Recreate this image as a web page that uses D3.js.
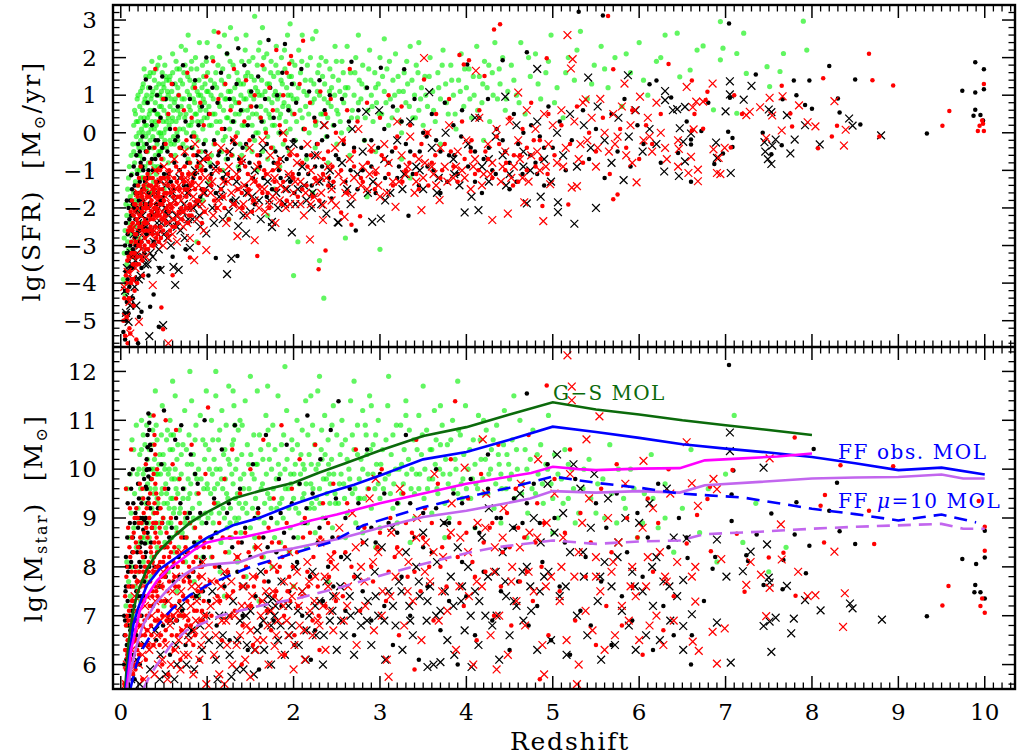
<!DOCTYPE html>
<html>
<head>
<meta charset="utf-8">
<script src="https://cdn.jsdelivr.net/npm/d3@7"></script>
<style>
  body { margin: 0; background: #fff; }
  svg { display: block; }
  text { font-family: "DejaVu Serif", serif; fill: #000; }
</style>
</head>
<body>
<svg id="chart"></svg>
<script>
const width = 1018;
const height = 755;

// tick labels
const zTicks = [0, 1, 2, 3, 4, 5, 6, 7, 8, 9, 10];
const sfrTicks = [-5, -4, -3, -2, -1, 0, 1, 2, 3];
const msTicks = [6, 7, 8, 9, 10, 11, 12];

// ---- upper panel: lg(SFR) vs redshift, [z, lgSFR] ----
const sfrGreen = [
  [0.03,-3.9],[0.04,-3.2],[0.05,-2.6],[0.05,-4.3],[0.06,-1.9],[0.07,-3.5],[0.07,-2.2],[0.08,-2.9],[0.08,-1.5],[0.09,-3.1],[0.09,-1.2],[0.10,-2.4],[0.10,-0.9],[0.11,-2.7],[0.11,-1.7],[0.12,-3.6],[0.12,-0.6],[0.06,-4.0],[0.04,-2.8],[0.10,-1.95],
  [0.13,-2.2],[0.13,-1.1],[0.14,-0.3],[0.14,-2.9],[0.15,-1.6],[0.15,0.2],[0.16,-0.8],[0.16,-2.5],[0.17,-1.3],[0.17,0.5],[0.18,-0.1],[0.18,-1.9],[0.19,-0.6],[0.19,0.9],[0.20,-1.4],[0.20,0.3],[0.21,-2.1],[0.21,-0.4],[0.22,0.7],[0.22,-1.0],[0.23,-0.2],[0.23,1.1],[0.24,-1.7],[0.24,0.1],[0.25,-0.7],[0.25,0.6],[0.26,-1.2],[0.26,1.3],[0.27,-0.3],[0.27,0.4],[0.28,-0.9],[0.28,0.9],[0.29,-0.1],[0.29,1.5],[0.30,-1.5],[0.30,0.2],[0.14,-3.3],[0.17,-2.7],[0.21,-2.8],[0.24,-2.4],[0.27,1.7],[0.19,-1.0],[0.23,-0.9],[0.26,0.0],[0.28,-1.9],
  [0.31,0.8],[0.31,-0.5],[0.32,1.2],[0.32,0.0],[0.33,-1.1],[0.33,0.5],[0.34,1.6],[0.34,-0.2],[0.35,0.9],[0.35,-0.8],[0.36,0.3],[0.36,1.9],[0.37,-0.4],[0.37,1.1],[0.38,0.6],[0.38,-1.3],[0.39,0.1],[0.39,1.4],[0.40,-0.6],[0.40,0.8],[0.41,1.7],[0.41,0.2],[0.42,-0.3],[0.42,1.0],[0.43,0.5],[0.43,-0.9],[0.44,1.3],[0.44,0.0],[0.45,2.0],[0.45,0.7],[0.46,-0.5],[0.46,0.4],[0.47,1.1],[0.47,-0.1],[0.48,0.9],[0.48,1.6],[0.49,-0.7],[0.49,0.3],[0.50,1.2],[0.50,0.6],[0.51,-0.2],[0.51,1.8],[0.52,0.1],[0.52,0.9],[0.53,1.4],[0.53,-0.4],[0.54,0.5],[0.55,1.0],[0.55,-0.8],[0.56,0.2],[0.57,1.5],[0.57,0.7],[0.58,-0.3],[0.59,1.1],[0.60,0.4],[0.60,2.1],[0.61,-0.1],[0.62,0.8],[0.63,1.3],[0.63,-0.6],[0.64,0.3],[0.65,1.7],[0.66,0.6],[0.66,-0.2],[0.67,1.0],[0.68,0.1],[0.69,1.4],[0.69,0.5],[0.36,-1.6],[0.52,-1.2],
  [0.71,0.9],[0.72,-0.3],[0.73,1.6],[0.74,0.4],[0.75,2.2],[0.76,0.0],[0.77,1.1],[0.78,-0.7],[0.79,0.7],[0.80,1.4],[0.81,0.2],[0.82,1.9],[0.83,-0.4],[0.84,0.9],[0.85,1.3],[0.86,0.5],[0.87,-0.1],[0.88,1.7],[0.89,0.3],[0.90,1.0],[0.91,2.4],[0.92,0.6],[0.93,-0.5],[0.94,1.2],[0.95,0.1],[0.96,1.5],[0.97,0.8],[0.98,-0.2],[0.99,1.9],[1.00,0.4],[1.01,1.1],[1.02,0.7],[1.03,-0.8],[1.04,1.4],[1.05,0.2],[1.06,2.0],[1.07,0.9],[1.08,-0.3],[1.09,0.5],[1.10,1.6],[1.11,1.2],[1.12,0.0],[1.13,0.8],[1.14,2.3],[1.15,0.3],[1.16,1.0],[1.17,-0.5],[1.18,1.7],[1.19,0.6],[1.20,1.3],[1.21,-0.1],[1.22,0.9],[1.23,2.1],[1.24,0.4],[1.25,1.5],[1.26,0.1],[1.27,1.1],[1.28,0.7],[1.29,-0.6],[1.30,1.8],[1.31,0.3],[1.32,1.2],[1.33,0.8],[1.34,2.5],[1.35,0.0],[1.36,1.4],[1.37,0.5],[1.38,-0.3],[1.39,1.0],[1.40,1.9],[1.41,0.6],[1.42,1.3],[1.43,0.2],[1.44,2.2],[1.45,0.9],[1.46,-0.4],[1.47,1.6],[1.48,0.4],[1.49,1.1],[1.50,0.7],[0.84,-1.1],[1.02,-1.3],[1.18,-1.0],[1.36,-0.9],[0.95,-1.8],[1.25,-2.3],[0.78,2.6],[1.08,2.7],[1.27,2.8],[0.88,-2.9],
  [1.51,1.5],[1.52,0.2],[1.53,2.0],[1.54,0.9],[1.55,-0.2],[1.56,1.2],[1.57,0.5],[1.58,1.8],[1.59,0.0],[1.60,1.0],[1.61,2.4],[1.62,0.7],[1.63,1.4],[1.64,-0.5],[1.65,0.3],[1.66,1.7],[1.67,1.1],[1.68,0.6],[1.69,2.1],[1.70,-0.1],[1.71,0.9],[1.72,1.3],[1.73,0.4],[1.74,1.9],[1.75,0.8],[1.76,-0.4],[1.77,1.5],[1.78,0.2],[1.79,1.1],[1.80,2.3],[1.81,0.6],[1.82,1.6],[1.83,0.0],[1.84,1.0],[1.85,0.5],[1.86,2.0],[1.87,1.3],[1.88,-0.3],[1.89,0.8],[1.90,1.7],[1.91,0.3],[1.92,1.2],[1.93,2.6],[1.94,0.7],[1.95,1.5],[1.96,0.1],[1.97,1.0],[1.98,1.9],[1.99,0.5],[2.00,1.3],[2.02,-0.2],[2.04,0.9],[2.06,2.2],[2.08,1.6],[2.10,0.4],[2.12,1.1],[2.14,0.7],[2.16,1.8],[2.18,0.0],[2.20,1.4],[2.22,2.5],[2.24,0.9],[2.26,0.3],[2.28,1.6],[2.30,1.0],[2.32,2.0],[2.34,0.5],[2.36,1.3],[2.38,-0.1],[2.40,0.8],[2.42,1.7],[2.44,1.2],[2.46,0.2],[2.48,2.3],[2.50,0.6],[1.58,-1.0],[1.84,-0.9],[2.15,-0.7],[2.40,-0.8],[1.70,-2.2],[2.05,-2.9],[2.30,-3.4],[1.64,2.8],[1.96,2.9],[2.26,2.7],[1.78,-1.5],[2.22,-1.6],[1.55,3.1],[2.35,-4.4],[2.00,-3.8],
  [2.52,1.4],[2.54,0.3],[2.56,1.9],[2.58,0.8],[2.60,1.2],[2.62,2.3],[2.64,0.1],[2.66,1.6],[2.68,0.6],[2.70,1.0],[2.72,2.0],[2.74,0.4],[2.76,1.4],[2.78,0.9],[2.80,1.8],[2.82,-0.2],[2.84,1.2],[2.86,0.6],[2.88,2.2],[2.90,1.0],[2.92,0.3],[2.94,1.6],[2.96,0.8],[2.98,1.3],[3.00,2.0],[3.02,0.5],[3.05,1.1],[3.08,1.7],[3.10,0.2],[3.12,0.9],[3.15,1.4],[3.18,2.1],[3.20,0.6],[3.22,1.1],[3.25,0.0],[3.28,1.6],[3.30,0.8],[3.32,1.3],[3.35,2.3],[3.38,0.4],[3.40,1.0],[3.42,1.8],[3.45,0.6],[3.48,1.2],[3.50,0.2],[2.65,-0.6],[2.95,-0.5],[3.25,-0.7],[2.75,2.6],[3.05,2.5],[3.45,2.4],[2.60,-2.8],[3.00,-3.1],[2.85,-1.7],[3.35,-1.2],
  [3.52,1.5],[3.55,0.7],[3.58,2.0],[3.61,1.1],[3.64,0.3],[3.67,1.6],[3.70,0.9],[3.73,2.2],[3.76,1.3],[3.79,0.5],[3.82,1.8],[3.85,1.0],[3.88,0.1],[3.91,1.4],[3.94,2.1],[3.97,0.7],[4.00,1.2],[4.03,1.7],[4.06,0.4],[4.09,1.0],[4.12,2.3],[4.15,1.5],[4.18,0.8],[4.21,1.9],[4.24,1.2],[4.27,0.3],[4.30,1.6],[4.33,2.4],[4.36,0.9],[4.39,1.3],[4.42,2.0],[4.45,0.6],[4.48,1.1],[3.70,-0.3],[4.20,-0.2],
  [4.52,1.8],[4.58,1.0],[4.63,2.4],[4.68,0.5],[4.74,1.5],[4.80,2.1],[4.86,0.9],[4.92,1.6],[4.98,2.6],[5.05,1.2],[5.12,0.4],[5.18,2.0],[5.25,1.4],[5.32,2.7],[5.40,0.9],[5.48,1.8],[5.56,2.3],[5.64,1.2],[5.72,2.0],[5.80,0.7],[5.90,1.6],[6.00,2.4],[6.10,1.0],[6.20,1.9],[6.30,2.6],
  [6.44,2.65],[6.47,1.49],[6.59,1.67],[6.67,2.2],[6.74,2.31],[6.86,0.61],[6.94,2.96],[6.94,1.94],[6.97,2.25],[7.13,2.11],[7.13,0.52],[7.21,2.65],[7.24,1.58],[7.48,1.76],[7.51,1.23],[7.63,1.63],[7.67,2.11],[7.90,2.97],[7.94,2.2]
];
// denser core of the green cloud
const sfrGreenCore = [
  [0.15,-0.5],[0.16,0.6],[0.17,-1.8],[0.18,0.3],[0.19,-0.3],[0.20,1.0],[0.21,0.0],[0.22,-0.6],[0.23,0.4],[0.24,-1.2],[0.25,1.2],[0.26,-0.4],[0.27,0.8],[0.28,0.2],[0.29,-1.4],[0.30,1.0],[0.31,0.4],[0.32,-0.8],[0.33,1.5],[0.34,0.6],[0.35,0.1],[0.36,1.0],[0.37,-0.1],[0.38,1.6],[0.39,-0.9],[0.40,0.3],[0.41,1.2],[0.42,0.5],[0.43,1.8],[0.44,-0.5],[0.45,1.0],[0.46,0.0],[0.47,0.7],[0.48,-0.4],[0.49,1.3],[0.50,0.0],[0.51,0.9],[0.52,1.5],[0.53,0.3],[0.54,1.1],[0.55,0.4],[0.56,1.4],[0.57,-0.2],[0.58,0.9],[0.59,0.3],[0.60,1.6],[0.61,0.6],[0.62,-0.3],[0.63,0.9],[0.64,1.9],[0.65,0.0],[0.66,1.2],[0.67,0.4],[0.68,1.7],[0.69,-0.4],[0.70,0.7],[0.26,-2.0],[0.33,-1.6],[0.41,-1.1],[0.50,-1.5],
  [0.715,1.3],[0.725,0.1],[0.735,0.9],[0.745,1.8],[0.755,0.5],[0.765,-0.4],[0.775,1.5],[0.785,0.2],[0.795,1.0],[0.805,0.6],[0.815,1.7],[0.825,0.3],[0.835,1.2],[0.845,0.0],[0.855,0.8],[0.865,2.0],[0.875,0.5],[0.885,1.1],[0.895,-0.2],[0.905,1.4],[0.915,0.7],[0.925,1.0],[0.935,0.3],[0.945,1.8],[0.955,0.9],[0.965,0.4],[0.975,1.3],[0.985,0.6],[0.995,1.1],[1.005,1.6],[1.025,0.2],[1.045,1.0],[1.065,0.5],[1.085,1.3],[1.105,0.3],[1.125,1.8],[1.145,0.7],[1.165,1.4],[1.185,-0.2],[1.205,0.9],[1.225,0.4],[1.245,1.1],[1.265,1.9],[1.285,0.3],[1.305,0.9],[1.325,0.5],[1.345,1.6],[1.365,0.8],[1.385,1.3],[1.405,0.2],[1.425,0.9],[1.445,1.5],[1.465,0.6],[1.485,1.9],[1.505,1.0],[1.525,0.5],[1.545,1.4],[1.565,0.0],[1.585,1.1],[1.595,2.2],[0.80,-0.8],[0.92,-0.9],[1.05,-0.6],[1.22,-0.7],[1.40,-0.6],[1.52,-0.5],[0.70,2.3],[1.00,2.4],[1.20,2.6],[1.45,2.6],
  [1.615,0.4],[1.635,1.0],[1.655,2.0],[1.675,0.1],[1.695,1.3],[1.715,0.5],[1.735,1.6],[1.755,0.2],[1.775,1.0],[1.795,1.8],[1.815,0.9],[1.835,0.4],[1.855,1.4],[1.875,0.7],[1.895,2.2],[1.915,0.0],[1.935,1.0],[1.955,0.6],[1.975,1.5],[1.995,0.9],[2.015,1.8],[2.035,0.3],[2.055,1.2],[2.075,0.6],[2.095,1.9],[2.115,0.1],[2.135,1.4],[2.155,1.0],[2.175,0.5],[2.195,2.0],[2.215,0.8],[2.235,1.3],[2.255,0.2],[2.275,1.1],[2.295,1.8],[2.315,0.5],[2.335,1.5],[2.355,0.9],[2.375,1.9],[2.395,0.4],[2.415,1.1],[2.435,0.7],[2.455,1.5],[2.475,1.0],[2.495,1.9],[2.515,0.5],[2.535,1.1],[2.555,0.0],[2.575,1.6],[2.595,1.0],[1.70,-0.7],[1.95,-0.5],[2.25,-0.4],[2.50,-0.3],[2.10,2.6],
  [2.63,1.2],[2.67,0.4],[2.71,1.6],[2.75,0.8],[2.79,1.3],[2.83,0.4],[2.87,1.7],[2.91,0.7],[2.95,1.2],[2.99,0.5],[3.03,1.5],[3.07,0.8],[3.11,1.9],[3.14,0.4],[3.17,1.0],[3.21,1.5],[3.24,0.3],[3.27,1.1],[3.31,1.9],[3.34,0.7],[3.37,1.4],[3.41,0.4],[3.44,1.6],[3.47,0.9],[3.53,1.0],[3.57,1.5],[3.62,0.6],[3.68,1.2],[3.72,1.8],[3.77,0.8],[3.83,1.4],[3.87,0.5],[3.93,1.1],[3.98,1.7],[4.04,0.9],[4.08,1.5],[4.13,0.6],[4.19,1.3],[4.26,1.8],[4.31,1.0],
  [4.38,1.7],[4.46,0.9],[4.55,1.4],[4.61,0.8],[4.72,2.0],[4.83,1.3],[4.95,1.9],[5.02,0.8],[5.15,1.6],[5.28,2.2],[5.45,1.3],[5.60,1.7],[5.85,2.1],[6.05,1.4],[6.25,2.0]
];

const sfrBlackDots = [
  [0.03,-5.3],[0.04,-4.8],[0.05,-5.5],[0.05,-4.2],[0.06,-3.7],[0.06,-5.0],[0.07,-4.5],[0.07,-3.2],[0.08,-3.9],[0.08,-2.7],[0.09,-4.8],[0.09,-3.4],[0.10,-2.3],[0.10,-4.1],[0.11,-3.0],[0.11,-1.8],[0.12,-1.13],[0.12,-3.6],[0.13,-2.6],[0.13,-1.5],[0.14,-3.1],[0.14,-4.4],[0.15,-2.0],[0.15,-0.9],[0.16,-2.8],[0.16,-3.9],[0.17,-1.6],[0.17,-2.3],[0.18,-0.6],[0.18,-3.3],[0.19,-2.0],[0.19,-1.1],[0.20,-2.6],[0.20,-0.3],[0.21,-1.8],[0.21,-4.9],[0.22,-2.9],[0.22,-1.3],[0.23,-0.8],[0.23,-2.2],[0.24,-4.76],[0.24,-3.6],[0.25,-1.5],[0.25,-0.1],[0.26,-2.5],[0.26,-1.0],[0.27,-3.2],[0.27,0.3],[0.28,-1.9],[0.29,1.42],[0.29,-0.5],[0.30,-2.7],[0.30,-1.2],[0.34,-4.63],[0.44,-5.16],[0.20,-5.6],[0.32,-3.8],[0.38,-4.3],
  [0.31,0.8],[0.32,-1.6],[0.33,-0.4],[0.34,1.2],[0.35,-2.2],[0.36,0.2],[0.37,-1.0],[0.38,-2.9],[0.39,0.6],[0.40,-0.7],[0.41,-1.9],[0.42,1.0],[0.43,-0.2],[0.44,-1.3],[0.45,-2.5],[0.46,0.4],[0.47,-0.9],[0.48,1.5],[0.49,-1.7],[0.50,-0.3],[0.52,0.9],[0.53,-2.1],[0.55,-1.1],[0.57,0.1],[0.58,-0.6],[0.60,1.3],[0.61,-1.5],[0.63,-0.2],[0.65,-2.4],[0.66,0.7],[0.68,-1.0],[0.70,-0.4],[0.72,1.8],[0.73,-1.4],[0.75,0.3],[0.77,-0.8],[0.79,-2.0],[0.80,0.9],[0.82,-0.1],[0.84,-1.2],[0.86,1.4],[0.88,-0.6],[0.90,0.2],[0.92,-1.7],[0.94,0.7],[0.96,-0.3],[0.98,-1.0],[0.99,2.0],[0.60,-3.3],[0.75,-3.1],[0.45,-3.6],
  [1.02,0.5],[1.04,-0.9],[1.06,1.2],[1.08,-0.2],[1.10,-1.6],[1.10,-3.33],[1.12,0.8],[1.14,-0.5],[1.16,1.6],[1.18,-1.2],[1.20,0.1],[1.23,2.11],[1.24,-0.7],[1.26,0.9],[1.28,-1.8],[1.30,0.3],[1.32,-0.3],[1.34,1.3],[1.35,-3.28],[1.36,2.25],[1.37,-1.0],[1.39,0.6],[1.41,-0.4],[1.43,1.8],[1.45,-1.4],[1.47,0.2],[1.49,-0.8],[1.51,1.1],[1.53,-0.1],[1.55,-1.9],[1.57,0.7],[1.59,1.5],[1.61,-0.6],[1.63,0.3],[1.65,-1.2],[1.67,0.9],[1.69,-0.3],[1.71,2.47],[1.73,1.2],[1.75,-1.5],[1.77,0.4],[1.79,-0.5],[1.81,1.0],[1.83,-1.0],[1.85,0.0],[1.87,1.6],[1.90,2.36],[1.92,-0.7],[1.94,0.6],[1.96,-1.3],[1.98,1.3],[2.00,-0.2],[2.03,0.8],[2.06,-1.1],[2.09,1.7],[2.12,0.1],[2.15,-0.6],[2.18,1.1],[2.21,-1.4],[2.24,0.4],[2.27,-0.3],[2.30,1.4],[2.33,-0.9],[2.36,0.6],[2.39,-0.1],[2.42,1.0],[2.44,-1.75],[2.47,0.2],
  [2.52,-0.7],[2.56,0.9],[2.60,-1.3],[2.64,0.3],[2.67,1.89],[2.70,-0.4],[2.72,-2.6],[2.75,0.6],[2.80,-1.0],[2.85,1.2],[2.90,-0.2],[2.95,-1.6],[3.01,1.73],[3.05,0.1],[3.10,-0.8],[3.15,0.7],[3.20,-1.2],[3.25,0.3],[3.28,1.69],[3.33,-2.21],[3.35,-0.5],[3.40,0.9],[3.45,-1.4],[3.50,0.0],[3.55,-0.9],[3.60,0.5],[3.65,-0.2],[3.70,-1.6],[3.75,0.8],[3.80,-0.6],[3.85,0.2],[3.90,-1.1],[3.95,0.6],[4.01,1.82],[4.05,-0.4],[4.10,-1.3],[4.15,0.4],[4.20,-0.7],[4.25,0.9],[4.30,-1.0],[4.35,0.1],[4.42,1.93],[4.45,-0.5],[4.50,-1.5],[4.55,0.5],[4.60,-0.3],[4.65,-1.1],[4.70,2.14],[4.75,0.2],[4.80,-0.8],[4.85,-0.1],[4.90,-1.4],[4.95,0.7],
  [5.00,-0.4],[5.08,0.3],[5.15,-1.0],[5.22,-0.2],[5.30,3.22],[5.35,0.6],[5.42,-0.7],[5.50,0.1],[5.58,3.12],[5.60,-1.2],[5.68,0.5],[5.75,-0.5],[5.83,0.9],[5.90,-0.9],[5.98,0.2],[6.05,-0.3],[6.12,1.29],[6.20,1.39],[6.25,-0.8],[6.37,0.94],[6.45,-0.54],[6.55,0.3],[6.60,-0.18],[6.60,-0.31],[6.60,-1.3],[6.72,0.05],[6.80,0.8],[6.87,-0.83],[6.97,-0.55],[7.03,0.03],[7.04,2.91],[7.05,0.93],[7.08,-0.14],[7.08,-0.38],
  [7.35,1.55],[7.43,0.0],[7.53,-0.57],[7.65,-0.33],[7.66,0.89],[7.79,1.39],[7.82,1.0],[7.92,0.74],[7.97,1.39],[8.00,0.64],[8.20,1.78],[8.30,0.91],[8.32,0.54],[8.50,1.42],[8.56,0.22],[9.33,-0.02],[9.74,1.12],[9.87,0.45],[9.89,1.88],[9.89,1.07],[9.89,0.61],[9.95,0.47],[9.98,0.33],[9.99,1.69],[9.99,1.16],
  [0.05,-3.0],[0.06,-2.4],[0.07,-1.8],[0.08,-4.5],[0.09,-2.0],[0.10,-3.2],[0.11,-4.0],[0.12,-2.2],[0.13,-3.3],[0.14,-1.9],[0.15,-3.6],[0.16,-1.4],[0.17,-3.0],[0.18,-2.1],[0.19,-2.7],[0.20,-1.6],[0.21,-2.4],[0.22,-0.5],[0.23,-1.6],[0.24,-2.0],[0.25,-0.9],[0.26,-1.8],[0.27,-0.7],[0.28,-1.3],[0.29,-2.3],[0.30,-0.3],[0.32,-1.0],[0.34,-1.9],[0.36,-0.7],[0.38,-1.5],[0.40,-0.2],[0.42,-1.3],[0.44,-0.6],[0.46,-1.8],[0.48,-0.4],[0.50,-1.1],[0.54,-0.5],[0.58,-1.3],[0.62,-0.8],[0.66,-0.1],[0.70,-1.2],[0.74,-0.6],[0.78,-1.4],[0.82,-0.4],[0.86,-1.1],[0.90,-0.8],[0.94,-1.5],[0.98,-0.5],
  [1.05,-1.1],[1.13,-0.6],[1.21,-1.3],[1.29,-0.2],[1.37,-0.7],[1.45,-0.3],[1.53,-1.2],[1.61,-0.9],[1.69,-1.7],[1.77,-0.8],[1.85,-1.2],[1.93,-0.4],[2.01,-1.6],[2.09,-0.4],[2.17,-1.1],[2.25,-0.9],[2.33,-0.2],[2.41,-1.2],[2.49,-0.6],
  [2.58,-0.3],[2.66,-1.0],[2.74,-1.5],[2.82,-0.2],[2.90,-0.9],[2.98,-0.4],[3.06,-1.2],[3.14,-0.5],[3.22,-0.9],[3.30,-0.3],[3.38,-1.1],[3.46,-0.5],[3.54,-0.1],[3.62,-1.0],[3.70,-0.5],[3.78,-1.3],[3.86,-0.6],[3.94,-0.1],[4.02,-0.9],[4.10,-0.5],[4.18,-1.6],[4.26,-0.4],[4.34,-1.1],[4.42,-0.2],[4.50,-0.8],[4.58,-1.3],[4.66,0.0],[4.74,-0.6],[4.82,-1.1],[4.90,-0.4]
];

const sfrRedDots = [
  [0.03,-5.0],[0.04,-4.4],[0.05,-5.4],[0.06,-3.8],[0.07,-4.9],[0.08,-4.2],[0.09,-3.3],[0.10,-5.2],[0.11,-5.34],[0.12,-2.9],[0.13,-3.9],[0.14,-2.4],[0.15,-4.6],[0.16,-3.2],[0.17,-1.9],[0.18,-2.7],[0.19,-4.0],[0.20,-1.4],[0.21,-3.5],[0.22,-2.2],[0.23,-0.9],[0.24,-2.9],[0.25,-1.7],[0.26,-3.8],[0.27,-2.4],[0.28,-1.2],[0.29,-3.1],[0.30,-0.5],[0.08,-5.6],[0.18,-5.5],
  [0.31,-2.0],[0.32,-1.4],[0.33,-2.6],[0.34,-0.8],[0.35,-1.9],[0.36,-3.0],[0.37,-1.2],[0.38,-2.3],[0.39,-0.4],[0.40,1.7],[0.40,-1.7],[0.41,-2.8],[0.42,-1.0],[0.43,-2.1],[0.44,0.3],[0.45,-1.5],[0.46,-2.5],[0.47,-4.65],[0.47,-0.7],[0.48,-1.9],[0.49,-5.23],[0.49,0.9],[0.50,-1.2],[0.51,-2.2],[0.52,-0.3],[0.53,-1.6],[0.54,-2.7],[0.55,0.5],[0.56,-1.0],[0.57,-1.9],[0.58,-0.6],[0.59,1.3],[0.60,-3.79],[0.60,-1.4],[0.62,-2.3],[0.63,0.1],[0.64,-0.9],[0.66,-1.7],[0.67,1.0],[0.68,-0.4],[0.70,-2.0],[0.71,-1.1],[0.73,0.6],[0.74,-1.5],[0.76,-0.2],[0.77,1.6],[0.78,-2.4],[0.80,-3.32],[0.80,-0.8],[0.82,0.4],[0.83,-1.3],[0.85,-0.1],[0.86,1.2],[0.88,-1.8],[0.90,-2.93],[0.90,-0.5],[0.92,0.8],[0.94,-1.0],[0.96,0.2],[0.97,-2.1],[0.99,1.5],
  [1.01,-0.7],[1.03,0.5],[1.05,-1.4],[1.07,1.9],[1.09,-0.3],[1.11,-2.0],[1.13,2.67],[1.13,0.9],[1.15,-1.0],[1.17,0.1],[1.19,-1.7],[1.21,1.3],[1.23,-0.5],[1.25,-2.3],[1.27,0.6],[1.29,-1.2],[1.31,1.7],[1.33,-0.1],[1.35,-1.5],[1.37,0.8],[1.39,-0.8],[1.41,-2.0],[1.43,0.3],[1.45,1.4],[1.47,-1.1],[1.49,-0.2],[1.51,0.7],[1.53,-1.8],[1.55,1.0],[1.58,-3.28],[1.58,-0.6],[1.60,-1.4],[1.62,0.4],[1.64,1.8],[1.66,-1.0],[1.68,0.0],[1.70,-1.6],[1.72,1.2],[1.74,-0.4],[1.76,0.6],[1.78,-1.3],[1.80,2.2],[1.82,-0.8],[1.84,0.2],[1.86,-1.9],[1.88,1.0],[1.90,-0.2],[1.92,1.6],[1.95,1.84],[1.97,2.04],[1.99,-1.1],[2.01,0.5],[2.04,-0.6],[2.07,1.3],[2.11,2.45],[2.10,-1.5],[2.13,0.1],[2.16,-0.9],[2.19,0.8],[2.22,-1.7],[2.25,0.3],[2.29,-3.63],[2.28,-0.3],[2.31,1.1],[2.34,-1.1],[2.37,-3.13],[2.37,0.5],[2.40,-0.5],[2.43,0.9],[2.46,-1.3],[2.49,0.0],
  [2.55,-2.12],[2.58,-0.2],[2.62,0.6],[2.65,1.7],[2.67,-2.45],[2.70,-0.9],[2.74,0.3],[2.77,-2.22],[2.80,-1.3],[2.85,0.8],[2.90,-0.5],[2.95,-1.1],[3.00,0.4],[3.05,-0.7],[3.10,1.0],[3.15,-1.4],[3.20,-0.1],[3.25,0.7],[3.30,-1.0],[3.35,0.2],[3.40,-0.6],[3.45,-1.5],[3.51,1.42],[3.55,0.0],[3.60,-0.8],[3.65,0.5],[3.70,-1.2],[3.75,-0.3],[3.80,0.9],[3.85,-0.9],[3.92,2.07],[3.95,0.3],[3.97,1.82],[4.03,1.93],[4.05,-0.5],[4.10,-1.1],[4.15,0.6],[4.21,1.51],[4.25,-0.7],[4.32,2.75],[4.35,-0.1],[4.39,2.89],[4.45,-1.0],[4.50,0.4],[4.55,-0.6],[4.60,-1.3],[4.65,0.1],[4.70,-0.4],[4.75,0.8],[4.80,-0.9],[4.85,-0.2],[4.88,-1.95],[4.93,1.98],[4.95,0.5],
  [5.02,-0.6],[5.10,0.2],[5.18,-1.91],[5.20,-0.3],[5.28,0.7],[5.35,-0.8],[5.42,0.0],[5.50,-0.5],[5.58,0.4],[5.64,3.11],[5.66,-1.1],[5.70,1.69],[5.70,-1.77],[5.75,-1.64],[5.78,0.1],[5.85,-0.4],[5.92,0.6],[6.00,-0.7],[6.08,0.2],[6.15,-0.3],[6.25,0.5],[6.34,1.83],[6.61,1.39],[6.61,0.06],[6.64,0.5],[6.74,0.11],[6.77,0.87],[6.79,1.09],[7.06,-0.39],[7.10,1.0],[7.19,0.5],
  [7.65,1.25],[7.75,0.51],[7.77,0.17],[8.07,-0.41],[8.13,1.45],[8.23,-0.1],[8.29,0.19],[8.66,2.1],[8.70,1.4],[8.78,-0.1],[8.94,1.26],[9.51,0.19],[9.59,0.58],[9.92,0.05],[9.94,0.19],[9.97,0.33],[9.98,0.24],[9.99,1.3],[9.99,0.05],
  [0.11,-2.5],[0.12,-4.0],[0.13,-1.8],[0.14,-3.5],[0.15,-2.2],[0.16,-4.2],[0.17,-2.9],[0.18,-1.6],[0.19,-3.3],[0.20,-2.4],[0.21,-1.2],[0.22,-3.0],[0.23,-1.9],[0.24,-2.5],[0.25,-3.4],[0.26,-2.0],[0.27,-1.5],[0.28,-2.8],[0.29,-1.9],[0.30,-2.4],[0.31,-1.1],[0.32,-2.9],[0.33,-1.7],[0.34,-2.3],[0.35,-1.4],[0.36,-2.1],[0.37,-2.7],[0.38,-1.6],[0.39,-2.0],[0.40,-2.5],[0.41,-1.4],[0.42,-2.2],[0.43,-1.7],[0.44,-2.9],[0.45,-1.9],[0.46,-1.2],[0.47,-2.3],[0.48,-1.5],[0.49,-2.6],[0.50,-1.8],[0.52,-2.4],[0.54,-1.4],[0.56,-2.1],[0.58,-1.6],[0.60,-2.5],[0.62,-1.2],[0.64,-1.9],[0.66,-2.4],[0.68,-1.5],[0.70,-1.2],[0.72,-2.1],[0.74,-0.9],[0.76,-1.7],[0.78,-1.1],[0.80,-1.9],[0.82,-2.2],[0.84,-0.6],[0.86,-1.5],[0.88,-0.9],[0.90,-1.8],[0.92,-1.2],[0.94,-2.4],[0.96,-1.5],[0.98,-0.7],
  [1.04,-1.2],[1.08,-1.8],[1.12,-0.8],[1.16,-1.5],[1.20,-2.0],[1.24,-1.1],[1.28,-0.6],[1.32,-1.9],[1.36,-1.2],[1.40,-1.6],[1.44,-0.9],[1.48,-1.5],[1.52,-2.1],[1.56,-1.3],[1.60,-0.8],[1.64,-1.6],[1.68,-1.1],[1.72,-2.0],[1.76,-1.0],[1.80,-1.5],[1.84,-0.7],[1.88,-1.3],[1.92,-1.8],[1.96,-0.6],[2.00,-1.2],[2.05,-1.7],[2.10,-0.8],[2.15,-1.4],[2.20,-0.6],[2.25,-1.2],[2.30,-1.8],[2.35,-0.7],[2.40,-1.4],[2.45,-0.9],
  [2.55,-1.0],[2.62,-1.6],[2.70,-0.5],[2.78,-1.2],[2.86,-0.8],[2.94,-1.5],[3.02,-0.6],[3.10,-1.1],[3.18,-0.4],[3.26,-1.3],[3.34,-0.8],[3.42,-1.1],[3.48,-0.3],[3.56,-1.4],[3.64,-0.6],[3.72,-1.0],[3.82,-0.5],[3.90,-1.3],[3.98,-0.7],[4.06,-0.2],[4.14,-1.0],[4.22,-0.5],[4.30,-1.2],[4.38,-0.3],[4.46,-0.8],[4.54,-1.4],[4.62,-0.6],[4.70,-1.0],[4.78,-0.2],[4.86,-0.7],[4.94,-1.1],
  [0.065,-4.0],[0.075,-3.4],[0.085,-2.6],[0.095,-4.4],[0.105,-3.7],[0.115,-2.1],[0.125,-3.2],[0.135,-2.6],[0.145,-3.9],[0.155,-1.9],[0.165,-2.7],[0.175,-3.5],[0.185,-2.3],[0.195,-1.7],[0.205,-3.0],[0.215,-2.5],[0.225,-1.6],[0.235,-3.3],[0.245,-2.1],[0.255,-2.6],[0.265,-1.4],[0.275,-3.0],[0.285,-2.0],[0.295,-2.6],[0.305,-1.7],[0.315,-3.1],[0.325,-2.2],[0.335,-1.2],[0.345,-2.5],[0.355,-1.8],[0.365,-2.6],[0.375,-1.5],[0.385,-3.0],[0.395,-2.2],[0.405,-1.3],[0.415,-2.0],[0.425,-2.7],[0.435,-1.6],[0.445,-2.2],[0.455,-1.0],[0.465,-2.8],[0.475,-1.9],[0.485,-1.2],[0.495,-2.3],[0.51,-1.6],[0.53,-2.0],[0.55,-1.2],[0.57,-2.6],[0.59,-2.0],[0.61,-1.7],[0.63,-2.5],[0.65,-1.3],[0.67,-2.1],[0.69,-1.7],[0.71,-2.3],[0.73,-1.3],[0.75,-2.0],[0.77,-1.5],[0.79,-2.2],[0.81,-1.4]
];

const sfrBlackCross = [
  [0.05,-4.2],[0.06,-4.79],[0.07,-3.6],[0.09,-5.03],[0.10,-4.4],[0.12,-3.2],[0.14,-3.9],[0.15,-2.7],[0.17,-3.4],[0.18,-4.6],[0.20,-2.4],[0.22,-3.0],[0.23,-3.8],[0.25,-2.2],[0.27,-2.8],[0.28,-3.5],[0.30,-1.9],[0.32,-2.6],[0.33,-5.41],[0.34,-3.2],[0.36,-2.1],[0.38,-2.9],[0.40,-1.6],[0.42,-2.4],[0.44,-3.1],[0.46,-3.65],[0.48,-1.9],[0.49,-5.12],[0.50,-2.7],[0.52,-1.4],[0.55,-2.2],[0.58,-3.0],[0.61,-3.57],[0.62,-1.8],[0.63,-4.05],[0.65,-2.5],[0.67,-3.65],[0.68,-1.2],[0.71,-2.1],[0.74,-2.8],[0.77,-1.6],[0.80,-3.06],[0.83,-2.3],[0.86,-1.0],[0.89,-1.9],[0.92,-2.5],[0.95,-0.7],[0.99,-2.68],
  [1.02,-1.4],[1.06,-2.0],[1.10,-0.9],[1.14,-1.7],[1.18,-2.3],[1.23,-3.76],[1.22,-1.1],[1.26,-0.5],[1.28,-3.35],[1.30,-1.9],[1.36,-2.48],[1.34,-1.3],[1.40,-0.8],[1.45,-2.68],[1.46,-1.6],[1.50,-2.1],[1.55,-1.0],[1.60,-1.8],[1.65,-0.4],[1.70,-1.3],[1.75,-2.51],[1.75,-2.37],[1.80,-1.6],[1.85,-0.7],[1.90,-1.9],[1.98,-2.65],[1.95,-1.2],[2.00,-0.3],[2.05,-1.5],[2.10,-0.9],[2.15,-1.8],[2.21,-2.0],[2.25,-0.6],[2.30,-1.3],[2.38,-2.15],[2.35,0.2],[2.42,-1.0],[2.51,-2.38],
  [2.52,-2.39],[2.56,-0.8],[2.62,-1.5],[2.68,0.1],[2.74,-1.1],[2.80,-0.5],[2.84,0.56],[2.91,-2.37],[2.92,-1.3],[2.99,0.6],[3.01,-2.28],[3.05,-0.7],[3.12,-1.6],[3.20,-0.2],[3.28,-1.1],[3.35,0.3],[3.42,-0.9],[3.50,-1.5],[3.57,1.08],[3.60,-0.4],[3.68,-1.2],[3.76,0.0],[3.85,-0.7],[3.92,-1.4],[3.98,-2.12],[4.02,-0.3],[4.10,0.4],[4.14,-2.06],[4.18,-0.9],[4.26,-1.3],[4.34,-0.1],[4.42,-0.6],[4.45,0.96],[4.50,-1.1],[4.58,0.2],[4.66,-0.5],[4.70,-1.88],[4.74,-1.0],[4.82,1.7],[4.82,0.3],[4.90,-0.7],[4.98,-1.3],
  [5.06,-1.85],[5.06,-2.11],[5.05,0.0],[5.12,-0.6],[5.20,0.5],[5.25,-2.42],[5.28,-0.9],[5.36,0.2],[5.41,1.47],[5.44,-0.4],[5.50,-2.0],[5.52,0.7],[5.60,-0.2],[5.68,-0.8],[5.76,0.4],[5.82,-1.26],[5.87,1.53],[5.88,-0.1],[5.96,0.6],[6.04,-0.5],[6.12,0.1],[6.20,-0.3],[6.29,-1.03],[6.30,1.11],[6.30,0.87],[6.39,0.6],[6.44,0.63],[6.46,-1.15],[6.47,0.12],[6.51,-0.24],[6.53,0.69],[6.53,-0.76],[6.60,-0.02],[6.89,-0.26],[6.90,-0.67],[7.00,0.57],[7.05,1.37],[7.05,1.02],[7.06,-1.07],[7.21,0.88],[7.30,1.25],[7.45,-0.25],[7.46,-0.5],[7.49,-0.7],[7.50,0.62],[7.53,-0.83],[7.53,0.55],[7.54,-0.34],[7.58,-0.18],[7.71,0.47],[7.75,-0.55],[7.80,-0.18],[7.92,0.2],[8.09,-0.31],[8.43,0.38],[8.47,0.19],[8.80,-0.07],
  [0.11,-4.6],[0.13,-3.5],[0.16,-4.1],[0.19,-3.2],[0.21,-3.9],[0.24,-2.6],[0.26,-3.3],[0.29,-2.5],[0.31,-3.5],[0.35,-2.6],[0.37,-3.3],[0.41,-2.1],[0.43,-2.7],[0.47,-2.4],[0.51,-2.0],[0.54,-2.8],[0.57,-2.4],[0.60,-1.6],[0.64,-2.2],[0.69,-2.6],[0.73,-1.9],[0.78,-2.3],[0.84,-2.0],[0.91,-2.2],[0.97,-1.6],
  [1.08,-2.4],[1.16,-1.5],[1.25,-2.1],[1.33,-1.8],[1.42,-2.2],[1.52,-1.7],[1.62,-2.3],[1.72,-1.8],[1.82,-2.0],[1.92,-1.5],[2.02,-1.9],[2.12,-1.4],[2.22,-1.6],[2.32,-1.9],[2.44,-1.4],
  [2.66,-1.9],[2.86,-1.6],[3.06,-1.8],[3.26,-1.5],[3.46,-1.0],[3.66,-1.6],[3.86,-1.1],[4.06,-1.7],[4.26,-0.7],[4.46,-1.4],[4.66,-0.9],[4.86,-1.7]
];

const sfrRedCross = [
  [0.04,-4.1],[0.06,-4.9],[0.08,-3.7],[0.11,-5.34],[0.10,-4.5],[0.12,-2.6],[0.14,-3.3],[0.16,-2.1],[0.18,-2.9],[0.20,-1.6],[0.21,-5.03],[0.22,-2.5],[0.24,-3.1],[0.26,-1.8],[0.28,-2.3],[0.30,-1.3],[0.32,-2.0],[0.34,-2.7],[0.36,-1.5],[0.37,-4.05],[0.38,-2.2],[0.40,-1.0],[0.42,-1.8],[0.44,-2.6],[0.46,-1.3],[0.48,-2.1],[0.50,-0.9],[0.52,-1.7],[0.54,-2.4],[0.56,-1.1],[0.58,-1.9],[0.60,-2.7],[0.62,-0.7],[0.64,-1.5],[0.66,-2.2],[0.68,-1.0],[0.70,-1.8],[0.72,-2.5],[0.74,-0.5],[0.76,-1.3],[0.78,-2.0],[0.80,-2.8],[0.82,-1.1],[0.85,-3.39],[0.84,-1.7],[0.86,-0.3],[0.88,-2.3],[0.90,-1.4],[0.92,-0.8],[0.94,-1.9],[0.96,-2.6],[0.99,-3.12],[0.98,-1.2],[0.55,-5.6],
  [1.01,-0.6],[1.04,-1.6],[1.07,-2.2],[1.10,-1.0],[1.13,-1.8],[1.16,-0.4],[1.19,-1.3],[1.22,-2.4],[1.25,-0.9],[1.28,-1.6],[1.31,-0.2],[1.34,-1.1],[1.35,-2.75],[1.37,-2.0],[1.40,-0.7],[1.43,-1.4],[1.46,-2.2],[1.49,-0.4],[1.52,-1.2],[1.55,-2.86],[1.55,-1.8],[1.58,-0.9],[1.61,-1.5],[1.64,-0.2],[1.67,-2.1],[1.70,-1.1],[1.73,-0.6],[1.76,-1.7],[1.79,-2.4],[1.82,-0.9],[1.85,-1.4],[1.88,0.0],[1.91,-2.0],[1.94,-1.1],[1.97,-0.5],[2.00,-1.6],[2.04,-0.8],[2.08,-1.3],[2.12,-2.2],[2.16,-0.3],[2.19,-2.84],[2.20,-1.0],[2.24,-1.7],[2.28,-0.6],[2.34,-2.32],[2.34,-1.92],[2.32,-1.2],[2.36,0.2],[2.40,-0.9],[2.44,-1.5],[2.49,-1.93],[2.48,-0.4],
  [2.52,-1.1],[2.56,-0.2],[2.59,-2.24],[2.60,-1.6],[2.65,-0.7],[2.70,-1.2],[2.75,0.1],[2.80,-0.9],[2.85,-1.5],[2.90,-0.4],[2.95,-1.0],[3.00,-1.7],[3.05,-0.3],[3.10,-0.8],[3.15,-1.3],[3.18,-1.97],[3.20,0.3],[3.25,-0.6],[3.30,-1.1],[3.35,-0.1],[3.40,-1.6],[3.45,-0.7],[3.48,-2.06],[3.51,1.99],[3.50,-1.2],[3.55,0.0],[3.60,-0.9],[3.65,-1.4],[3.69,-1.79],[3.70,-0.4],[3.75,-0.9],[3.80,0.2],[3.85,-1.2],[3.90,-0.5],[3.95,-1.0],[4.00,-0.2],[4.05,-1.5],[4.11,1.65],[4.10,-0.7],[4.15,0.4],[4.20,-1.1],[4.25,-0.3],[4.30,-2.32],[4.30,-0.8],[4.35,0.1],[4.40,-1.3],[4.45,-0.5],[4.48,-2.15],[4.50,0.3],[4.55,-0.9],[4.60,1.07],[4.60,-0.2],[4.65,-1.2],[4.67,-1.85],[4.70,0.6],[4.75,-0.6],[4.80,0.1],[4.85,-1.0],[4.89,-2.35],[4.90,0.5],[4.95,-0.3],[4.97,-1.37],
  [5.00,0.2],[5.05,-0.8],[5.10,0.6],[5.15,-0.4],[5.17,2.6],[5.21,1.71],[5.23,1.96],[5.22,-1.46],[5.25,0.3],[5.28,-1.42],[5.30,-0.7],[5.35,0.8],[5.38,0.89],[5.40,-0.2],[5.45,0.4],[5.50,-0.9],[5.55,0.9],[5.60,0.0],[5.65,-0.5],[5.70,0.5],[5.75,-0.1],[5.80,0.7],[5.83,1.31],[5.85,-0.6],[5.90,0.2],[5.97,-1.32],[5.95,0.6],[6.01,0.96],[6.05,-0.2],[6.10,0.4],[6.15,-0.5],[6.20,0.8],[6.25,0.0],[6.30,-0.4],[6.45,-0.9],[6.45,-0.2],[6.46,-0.43],[6.55,1.22],[6.57,-1.07],[6.60,-0.64],[6.62,0.68],[6.63,0.09],[6.66,0.83],[6.68,-0.98],[6.68,-1.29],[6.74,0.83],[6.85,1.31],[6.86,-0.44],[6.90,-1.07],[6.92,-0.67],[6.94,-1.1],[6.99,-0.4],
  [7.24,0.47],[7.28,0.56],[7.40,0.68],[7.47,-0.14],[7.51,0.93],[7.54,0.46],[7.65,0.06],[7.66,0.97],[7.85,0.73],[7.95,0.28],[8.04,0.17],[8.26,0.84],[8.37,-0.34],[8.39,0.08],
  [0.13,-3.9],[0.15,-2.5],[0.17,-3.6],[0.19,-2.0],[0.21,-3.0],[0.23,-2.2],[0.25,-2.7],[0.27,-1.6],[0.29,-3.3],[0.31,-2.4],[0.33,-1.7],[0.35,-3.0],[0.37,-2.0],[0.39,-2.6],[0.41,-1.5],[0.43,-2.9],[0.45,-2.2],[0.47,-1.7],[0.49,-3.0],[0.51,-2.3],[0.53,-1.3],[0.55,-2.8],[0.57,-2.0],[0.59,-1.5],[0.61,-2.3],[0.63,-1.8],[0.65,-2.9],[0.67,-1.4],[0.69,-2.3],[0.71,-1.6],[0.73,-2.1],[0.75,-1.2],[0.77,-2.4],[0.79,-1.6],[0.81,-2.0],[0.83,-1.4],[0.87,-1.9],[0.91,-1.0],[0.95,-1.6],[0.97,-2.1],
  [1.06,-1.3],[1.12,-2.0],[1.18,-1.7],[1.24,-1.3],[1.30,-1.9],[1.36,-1.5],[1.42,-1.9],[1.48,-1.6],[1.54,-1.3],[1.60,-2.0],[1.66,-1.5],[1.72,-1.9],[1.78,-1.2],[1.84,-1.8],[1.90,-1.5],[1.96,-1.9],[2.02,-1.3],[2.08,-1.9],[2.14,-1.6],[2.20,-1.9],[2.26,-1.3],[2.32,-1.6],[2.38,-1.2],[2.44,-1.8],
  [2.58,-1.3],[2.68,-1.7],[2.78,-1.4],[2.88,-1.1],[2.98,-1.4],[3.08,-1.6],[3.22,-1.3],[3.32,-0.9],[3.42,-1.3],[3.52,-0.8],[3.62,-1.1],[3.78,-1.3],[3.88,-0.9],[3.98,-1.2],[4.08,-0.9],[4.18,-1.4],[4.28,-1.1],[4.42,-0.9],[4.52,-1.2],[4.62,-0.7],[4.72,-1.3],[4.82,-0.5],[4.92,-0.9],[5.12,-0.9],[5.32,-0.3],[5.52,-0.4],[5.72,-0.3],[5.92,-0.8],[6.12,-0.1],[6.32,-0.7]
];

// ---- lower panel: lg(Mstar) vs redshift, [z, lgM] ----
const msGreen = [
  [0.06,7.2],[0.07,8.1],[0.08,6.8],[0.09,7.7],[0.10,8.6],[0.11,7.4],[0.12,9.1],[0.13,8.0],[0.14,7.0],[0.15,8.8],[0.16,9.5],[0.17,7.6],[0.18,8.4],[0.19,9.9],[0.20,7.9],[0.21,8.9],[0.22,10.3],[0.23,7.3],[0.24,8.6],[0.25,9.4],[0.26,8.1],[0.27,10.0],[0.28,9.0],[0.29,7.7],[0.30,8.5],[0.07,9.6],[0.11,9.9],[0.15,10.4],[0.19,6.9],[0.24,11.0],[0.09,6.5],[0.13,10.6],[0.18,10.9],[0.26,10.7],[0.29,9.6],
  [0.31,10.2],[0.32,9.3],[0.33,8.6],[0.34,11.1],[0.35,9.8],[0.36,8.2],[0.37,10.5],[0.38,9.1],[0.39,8.8],[0.40,9.6],[0.41,10.9],[0.42,8.4],[0.43,9.9],[0.44,9.2],[0.45,10.3],[0.46,8.7],[0.47,9.5],[0.48,11.3],[0.49,9.0],[0.50,10.1],[0.51,8.5],[0.52,9.7],[0.53,10.6],[0.54,9.3],[0.55,8.9],[0.56,10.0],[0.57,11.0],[0.58,9.4],[0.59,8.6],[0.60,10.4],[0.61,9.1],[0.62,9.8],[0.63,11.5],[0.64,8.8],[0.65,10.2],[0.66,9.5],[0.67,8.4],[0.68,10.8],[0.69,9.2],[0.70,9.9],[0.71,8.7],[0.72,10.5],[0.73,9.6],[0.74,11.2],[0.75,9.0],[0.76,8.6],[0.77,10.1],[0.78,9.4],[0.79,10.7],[0.80,8.9],[0.81,9.7],[0.82,11.4],[0.83,9.2],[0.84,10.3],[0.85,8.8],[0.86,9.9],[0.87,10.9],[0.88,9.5],[0.89,8.5],[0.90,10.0],[0.91,9.3],[0.92,11.1],[0.93,9.8],[0.94,8.9],[0.95,10.6],[0.96,9.6],[0.97,10.2],[0.98,9.1],[0.99,11.6],[1.00,9.7],[0.35,7.8],[0.45,7.6],[0.55,7.9],[0.65,7.5],[0.75,8.1],[0.85,7.7],[0.95,8.2],[0.40,11.6],[0.60,11.8],[0.80,12.0],[0.50,7.2],[0.70,7.0],[0.90,7.4],[0.38,10.0],[0.58,10.7],[0.78,9.1],[0.98,10.5],[0.62,8.3],[0.88,8.2],[0.42,9.4],
  [1.01,9.0],[1.02,10.4],[1.03,8.6],[1.04,9.5],[1.05,11.0],[1.06,9.9],[1.07,8.9],[1.08,10.2],[1.09,9.3],[1.10,11.5],[1.11,8.7],[1.12,9.7],[1.13,10.6],[1.14,9.1],[1.15,10.0],[1.16,8.5],[1.17,11.2],[1.18,9.6],[1.19,10.3],[1.20,9.0],[1.21,9.8],[1.22,10.9],[1.23,8.8],[1.24,9.4],[1.25,11.7],[1.26,10.1],[1.27,9.2],[1.28,8.6],[1.29,10.5],[1.30,9.7],[1.31,11.3],[1.32,9.0],[1.33,10.0],[1.34,8.9],[1.35,9.5],[1.36,10.8],[1.37,9.3],[1.38,11.0],[1.39,8.7],[1.40,10.3],[1.42,9.6],[1.44,11.4],[1.46,9.1],[1.48,10.1],[1.50,8.8],[1.52,9.9],[1.54,10.7],[1.56,9.4],[1.58,11.6],[1.60,9.0],[1.62,10.4],[1.64,9.7],[1.66,8.9],[1.68,11.1],[1.70,9.5],[1.72,10.2],[1.74,9.2],[1.76,10.9],[1.78,8.6],[1.80,9.8],[1.82,11.5],[1.84,9.3],[1.86,10.5],[1.88,9.0],[1.90,10.0],[1.92,11.2],[1.94,9.6],[1.96,8.8],[1.98,10.6],[2.00,9.4],[2.02,10.1],[2.04,11.0],[2.06,9.1],[2.08,9.9],[2.10,10.8],[2.12,9.5],[2.14,11.4],[2.16,8.9],[2.18,10.3],[2.20,9.7],[2.22,10.9],[2.24,9.2],[2.26,10.0],[2.28,11.6],[2.30,9.6],[2.32,10.4],[2.34,9.0],[2.36,11.1],[2.38,9.8],[2.40,10.6],[2.42,9.3],[2.44,10.2],[2.46,11.3],[2.48,9.5],[2.50,10.7],[1.05,8.2],[1.15,7.9],[1.25,8.3],[1.35,8.1],[1.45,7.8],[1.55,8.4],[1.65,8.2],[1.75,8.0],[1.85,8.5],[1.95,8.3],[2.05,8.6],[2.15,8.4],[2.25,8.7],[2.35,8.5],[2.45,8.8],[1.10,12.0],[1.50,11.9],[1.90,12.1],[2.30,11.9],[1.20,7.4],[1.60,7.3],[2.00,7.6],[2.40,7.7],[1.32,10.9],[1.71,10.5],[2.11,10.1],[1.41,9.2],[1.81,8.9],[2.21,9.3],[2.41,9.9],[1.58,10.1],[1.97,9.7],[2.33,10.2],
  [2.52,9.3],[2.54,10.3],[2.56,11.0],[2.58,9.7],[2.60,10.6],[2.62,9.1],[2.64,10.0],[2.66,11.4],[2.68,9.5],[2.70,10.4],[2.72,8.9],[2.74,10.9],[2.76,9.8],[2.78,10.2],[2.80,11.2],[2.82,9.4],[2.84,10.7],[2.86,9.9],[2.88,11.5],[2.90,9.2],[2.92,10.5],[2.94,9.6],[2.96,10.1],[2.98,11.0],[3.00,9.4],[3.03,10.4],[3.06,9.8],[3.09,11.3],[3.12,9.5],[3.15,10.7],[3.18,10.0],[3.21,9.3],[3.24,10.9],[3.27,9.7],[3.30,11.4],[3.33,10.2],[3.36,9.6],[3.39,10.6],[3.42,9.9],[3.45,11.1],[3.48,10.3],[3.51,9.4],[3.54,10.8],[3.57,9.8],[3.60,10.4],[3.63,11.2],[3.66,9.6],[3.69,10.0],[3.72,10.9],[3.75,9.3],[3.78,10.5],[3.81,9.9],[3.84,11.0],[3.87,10.2],[3.90,9.5],[3.93,10.7],[3.96,9.8],[3.99,11.3],[2.60,8.6],[2.80,8.7],[3.00,8.8],[3.20,8.9],[3.40,9.0],[3.60,9.1],[3.80,9.0],[2.70,11.8],[3.10,11.9],[3.50,11.7],[3.90,11.8],[2.95,8.4],[3.35,8.5],[3.75,8.6],[2.55,9.9],[2.85,10.3],[3.15,9.2],[3.45,9.6],[3.65,10.6],[3.95,9.4],[2.75,9.4],[3.25,10.1],
  [4.02,10.0],[4.05,9.4],[4.08,10.6],[4.11,9.7],[4.14,11.1],[4.17,10.2],[4.20,9.5],[4.23,10.8],[4.26,9.9],[4.29,10.4],[4.32,9.2],[4.35,10.9],[4.38,10.1],[4.41,9.6],[4.44,11.2],[4.47,10.3],[4.50,9.8],[4.53,10.6],[4.56,9.4],[4.59,10.0],[4.62,11.0],[4.65,9.7],[4.68,10.4],[4.71,9.1],[4.74,10.2],[4.77,10.8],[4.80,9.5],[4.83,9.9],[4.86,10.5],[4.89,9.3],[4.92,10.1],[4.95,11.1],[4.98,9.7],[5.02,10.3],[5.06,9.0],[5.10,9.8],[5.14,10.4],[5.18,9.4],[5.22,10.0],[5.26,8.9],[4.10,8.8],[4.40,8.9],[4.70,8.6],[5.00,8.7],[4.55,11.5],
  [5.35,9.6],[5.42,10.2],[5.50,9.1],[5.58,9.8],[5.66,10.5],[5.74,8.9],[5.82,9.4],[5.90,10.0],[5.98,8.6],[6.06,9.5],[6.14,10.3],[6.22,8.8],[6.30,9.7],[6.40,8.3],[6.50,9.2],[6.60,10.4],[6.70,8.7],[6.80,9.6],[6.90,8.1],[7.00,9.9],[7.10,11.1],[7.20,8.5],[7.35,9.3],[7.50,7.9],[7.70,8.4]
];
const msGreenCore = [
  [0.20,9.2],[0.21,10.0],[0.22,8.5],[0.23,9.6],[0.24,10.4],[0.25,8.9],[0.26,9.9],[0.27,8.6],[0.28,10.5],[0.29,9.3],[0.30,10.9],[0.31,9.7],[0.32,8.9],[0.33,10.4],[0.34,9.6],[0.35,10.0],[0.36,9.2],[0.37,10.8],[0.38,9.5],[0.39,10.2],[0.40,8.9],[0.41,9.9],[0.42,10.6],[0.43,9.3],[0.44,10.1],[0.45,8.9],[0.46,9.9],[0.47,10.7],[0.48,9.6],[0.49,10.3],[0.50,9.3],[0.51,10.0],[0.52,8.8],[0.53,9.5],[0.54,10.8],[0.55,9.9],[0.56,9.2],[0.57,10.4],[0.58,8.9],[0.59,9.8],[0.60,9.4],[0.61,10.7],[0.62,9.2],[0.63,10.0],[0.64,9.6],[0.65,8.7],[0.66,10.5],[0.67,9.8],[0.68,9.1],[0.70,10.3],[0.72,9.4],[0.74,8.9],[0.76,10.4],[0.78,9.8],[0.80,9.5],[0.82,10.1],[0.84,9.0],[0.86,10.6],[0.88,9.8],[0.90,9.0],
  [1.005,9.6],[1.025,10.0],[1.045,9.1],[1.065,10.6],[1.085,9.6],[1.105,10.0],[1.125,9.3],[1.145,10.8],[1.165,9.8],[1.185,9.2],[1.205,10.4],[1.225,9.5],[1.245,10.2],[1.265,8.9],[1.285,9.9],[1.305,10.6],[1.325,9.4],[1.345,10.2],[1.365,9.0],[1.385,9.8],[1.405,10.9],[1.425,9.9],[1.445,9.3],[1.465,10.5],[1.485,9.6],[1.505,10.3],[1.525,9.2],[1.545,9.8],[1.565,10.1],[1.585,9.1],[1.605,10.7],[1.625,9.6],[1.645,10.2],[1.665,9.3],[1.685,9.9],[1.705,10.8],[1.725,9.4],[1.745,10.0],[1.765,9.6],[1.785,10.4],[1.805,9.2],[1.825,10.1],[1.845,9.9],[1.865,9.4],[1.885,10.7],[1.905,9.6],[1.925,10.2],[1.945,9.2],[1.965,9.9],[1.985,10.4],[2.005,9.9],[2.025,9.2],[2.045,10.5],[2.065,9.7],[2.085,10.3],[2.105,9.4],[2.125,10.0],[2.145,9.7],[2.165,10.7],[2.185,9.2],[2.205,10.1],[2.225,9.6],[2.245,10.5],[2.265,9.4],[2.285,10.1],[2.305,9.3],[2.325,10.8],[2.345,9.8],[2.365,10.3],[2.385,9.5],[2.405,10.1],[2.425,9.7],[2.445,10.9],[2.465,9.9],[2.485,9.3],[1.30,11.6],[1.70,11.7],[2.20,11.5],[1.55,8.6],[2.10,8.9],
  [2.53,9.7],[2.56,10.5],[2.59,9.4],[2.62,10.2],[2.65,9.8],[2.68,10.7],[2.71,9.6],[2.74,10.3],[2.77,9.4],[2.80,10.0],[2.83,10.9],[2.86,9.6],[2.89,10.4],[2.92,9.9],[2.95,10.7],[2.98,9.7],[3.01,10.1],[3.04,9.6],[3.07,10.6],[3.10,9.9],[3.13,10.3],[3.16,9.7],[3.19,10.9],[3.22,10.0],[3.25,9.5],[3.28,10.4],[3.31,9.9],[3.34,10.8],[3.37,10.0],[3.40,9.5],[3.43,10.4],[3.46,9.9],[3.49,10.7],[3.52,10.0],[3.55,9.6],[3.58,10.4],[3.61,9.8],[3.64,10.1],[3.67,9.5],[3.70,10.5],[3.73,9.9],[3.76,10.2],[3.79,9.7],[3.82,10.6],[3.85,9.6],[3.88,10.0],[3.91,10.8],[3.94,9.7],[3.97,10.3],[4.00,9.6],[4.04,10.4],[4.07,9.8],[4.10,10.1],[4.13,9.6],[4.16,10.6],[4.19,9.8],[4.22,10.2],[4.25,9.5],[4.28,10.0],[4.31,10.6],[4.34,9.7],[4.37,10.3],[4.40,9.9],[4.43,10.5],[4.46,9.6],[4.49,10.1],[2.90,11.3],[3.30,11.1],[3.70,11.3],[4.20,11.0],
  [4.52,9.9],[4.58,10.4],[4.64,9.5],[4.70,10.0],[4.76,9.6],[4.82,10.3],[4.88,9.7],[4.94,10.0],[5.00,9.4],[5.06,9.9],[5.12,9.3],[5.18,10.1],[5.24,9.6],[5.30,9.1],[5.36,10.0],[5.44,9.4],[5.52,9.7],[5.60,9.0],[5.68,9.5],[5.76,10.0],[5.84,9.2],[5.94,9.6],[6.04,8.9],[6.16,9.4],[6.30,9.0]
];

const msBlackDots = [
  [0.28,8.2],[0.29,9.0],[0.30,9.6],[0.30,10.2],[0.31,10.7],[0.31,8.7],[0.32,11.14],[0.32,9.4],[0.33,10.8],[0.33,10.0],[0.34,9.2],[0.34,10.5],[0.35,10.39],[0.35,8.5],[0.30,9.98],[0.29,9.64],[0.31,9.3],[0.27,8.96],[0.26,8.76],[0.28,8.48],[0.33,10.95],[0.31,10.45],[0.32,9.85],[0.30,8.9],
  [0.04,6.0],[0.05,6.9],[0.06,7.6],[0.07,6.4],[0.08,7.3],[0.09,5.8],[0.10,8.0],[0.11,6.7],[0.12,9.6],[0.13,7.1],[0.14,8.6],[0.15,6.2],[0.16,7.8],[0.17,9.1],[0.18,6.6],[0.19,8.3],[0.20,7.4],[0.21,9.4],[0.22,6.0],[0.23,8.0],[0.24,7.0],[0.25,9.0],[0.26,6.4],[0.27,7.7],[0.08,9.3],[0.14,10.0],[0.20,8.8],[0.16,5.7],[0.24,8.5],[0.10,9.9],
  [0.37,7.2],[0.39,8.0],[0.41,6.5],[0.43,9.2],[0.45,7.6],[0.47,10.1],[0.49,6.8],[0.51,8.4],[0.53,7.3],[0.55,9.6],[0.57,6.2],[0.59,8.8],[0.61,7.7],[0.63,10.6],[0.65,6.9],[0.67,8.2],[0.69,9.3],[0.71,7.1],[0.73,8.6],[0.75,6.4],[0.77,9.0],[0.79,7.8],[0.81,10.3],[0.83,6.7],[0.85,8.5],[0.87,7.4],[0.89,9.7],[0.91,6.1],[0.93,8.1],[0.95,7.5],[0.97,11.0],[0.99,8.9],[0.50,11.2],[0.70,10.9],[0.86,9.9],
  [1.02,7.3],[1.05,8.6],[1.08,9.4],[1.11,6.8],[1.14,8.0],[1.17,10.4],[1.20,7.6],[1.23,9.1],[1.26,6.5],[1.29,8.4],[1.32,10.9],[1.35,7.9],[1.38,9.6],[1.41,7.0],[1.44,8.8],[1.47,6.3],[1.50,8.2],[1.53,10.1],[1.56,7.4],[1.59,9.2],[1.62,6.8],[1.65,8.6],[1.68,10.7],[1.71,7.7],[1.74,9.0],[1.77,6.9],[1.80,8.3],[1.83,9.8],[1.86,7.2],[1.89,8.7],[1.92,10.5],[1.95,7.5],[1.98,9.3],[2.01,6.4],[2.04,8.1],[2.07,9.7],[2.10,7.0],[2.13,8.9],[2.16,11.1],[2.19,7.8],[2.22,9.5],[2.25,6.7],[2.28,8.5],[2.31,10.2],[2.34,7.3],[2.37,9.0],[2.40,8.0],[2.43,10.8],[2.46,7.6],[2.49,9.4],[2.20,6.1],[1.60,5.9],
  [2.52,11.39],[2.55,8.2],[2.60,7.1],[2.65,9.6],[2.70,6.6],[2.75,8.8],[2.80,7.5],[2.85,10.4],[2.90,6.9],[2.95,8.5],[3.00,9.9],[3.05,7.2],[3.10,8.9],[3.15,6.4],[3.20,9.3],[3.25,7.8],[3.30,10.7],[3.35,7.0],[3.40,8.6],[3.45,6.1],[3.50,9.1],[3.55,7.6],[3.60,8.3],[3.65,10.0],[3.70,6.7],[3.75,8.9],[3.80,7.3],[3.85,9.5],[3.90,6.0],[3.95,8.1],[4.00,7.4],[4.05,9.8],[4.10,6.6],[4.15,8.7],[4.20,7.9],[4.25,10.3],[4.30,6.9],[4.35,9.0],[4.40,7.5],[4.45,8.4],[4.50,6.3],[4.55,9.4],[4.60,7.7],[4.65,8.9],[4.70,11.55],[4.72,6.8],[4.78,9.7],[4.82,7.2],[4.88,8.1],[4.94,10.1],[4.98,6.5],
  [5.02,9.0],[5.08,7.6],[5.14,8.5],[5.20,6.2],[5.26,9.8],[5.32,7.1],[5.38,8.2],[5.44,6.8],[5.50,9.3],[5.56,7.7],[5.62,8.8],[5.68,6.4],[5.74,9.5],[5.80,7.4],[5.86,8.3],[5.92,6.9],[5.98,9.1],[6.04,7.8],[6.10,8.6],[6.16,6.3],[6.22,9.7],[6.28,7.2],[6.34,8.4],[6.40,6.6],[6.46,9.0],[6.55,8.6],[6.60,6.0],[6.75,7.3],[6.88,8.2],
  [7.04,12.13],[8.02,10.41],[7.09,9.97],[8.29,9.72],[7.07,9.48],[7.82,9.32],[8.20,9.15],[7.07,8.94],[7.53,9.09],[8.32,8.73],[7.36,8.66],[7.80,8.66],[7.97,8.43],[8.50,8.47],[7.24,8.24],[7.67,8.14],[6.56,8.18],[6.85,7.96],[7.26,8.12],[7.93,7.87],[7.44,7.63],[7.66,7.54],[6.61,6.6],[9.33,6.99],[9.74,8.16],[9.90,8.06],[10.0,8.19],[10.0,8.74],[9.89,7.63],[9.88,7.48],[9.95,7.48],[10.0,7.35],
  [0.04,7.0],[0.06,8.2],[0.08,6.3],[0.10,7.0],[0.12,8.1],[0.14,6.9],[0.16,8.9],[0.18,7.5],[0.20,9.7],[0.22,8.4],[0.24,9.3],[0.26,7.4],[0.27,9.8],[0.29,8.3],[0.31,10.0],[0.33,8.0],[0.35,9.8],[0.36,8.8],[0.44,8.0],[0.48,8.9],[0.52,7.8],[0.56,8.6],[0.60,8.0],[0.64,9.0],[0.68,7.8],[0.72,9.6],[0.76,8.3],[0.80,9.1],[0.84,7.9],[0.88,8.4],[0.92,9.1],[0.96,8.2],
  [1.10,8.7],[1.25,9.3],[1.40,8.5],[1.55,9.0],[1.70,8.4],[1.85,9.1],[2.00,8.6],[2.15,9.2],[2.30,8.8],[2.45,8.6],[2.60,9.0],[2.75,9.3],[2.90,8.8],[3.05,9.5],[3.20,8.7],[3.35,9.3],[3.50,8.4],[3.65,9.2],[3.80,8.9],[3.95,9.3],[4.10,8.8],[4.25,9.6],[4.40,9.0],[4.55,8.8],[4.70,9.3],[4.85,8.9],
  [0.045,6.6],[0.055,7.5],[0.065,6.1],[0.075,8.6],[0.085,7.9],[0.095,6.8],[0.105,8.9],[0.115,7.6],[0.125,6.5],[0.135,8.3],[0.145,9.3],[0.155,7.2],[0.165,8.0],[0.175,6.9],[0.185,9.0],[0.195,7.7],[0.205,6.4],[0.215,8.1],[0.225,9.0],[0.235,7.4]
];

const msRedDots = [
  [0.38,11.1],[0.39,10.7],[0.40,10.3],[0.38,9.9],[0.41,9.5],[0.39,9.1],[0.40,8.7],[0.42,8.3],[0.38,7.9],[0.41,7.5],[0.39,10.5],[0.40,9.7],[0.41,8.9],[0.37,8.1],[0.42,10.0],[0.39,9.3],
  [0.04,5.6],[0.05,6.3],[0.06,5.9],[0.07,7.0],[0.08,6.5],[0.09,7.6],[0.10,6.1],[0.11,8.2],[0.12,6.8],[0.13,7.3],[0.14,5.8],[0.15,8.7],[0.16,6.5],[0.17,7.9],[0.18,9.2],[0.19,7.1],[0.20,8.4],[0.21,6.2],[0.22,9.7],[0.23,7.6],[0.24,8.9],[0.25,6.8],[0.26,9.4],[0.27,7.3],[0.28,8.0],[0.29,10.1],[0.30,7.0],[0.31,8.6],[0.32,6.4],[0.33,9.0],[0.34,7.7],[0.35,8.3],[0.36,9.8],[0.06,9.6],[0.12,10.4],[0.25,5.7],[0.17,5.9],[0.29,6.1],
  [0.43,7.1],[0.44,8.5],[0.45,6.4],[0.46,9.2],[0.47,7.8],[0.48,6.0],[0.49,8.1],[0.50,7.3],[0.51,9.6],[0.52,6.7],[0.53,8.7],[0.54,7.5],[0.55,5.8],[0.56,8.2],[0.57,6.9],[0.58,9.0],[0.59,7.2],[0.60,10.1],[0.61,6.3],[0.62,8.4],[0.63,7.6],[0.64,9.4],[0.65,6.6],[0.66,8.0],[0.67,7.0],[0.68,9.8],[0.69,6.1],[0.70,8.6],[0.72,7.4],[0.74,9.1],[0.76,6.8],[0.78,8.3],[0.80,7.7],[0.82,10.5],[0.84,6.4],[0.86,8.8],[0.88,7.1],[0.90,9.5],[0.92,6.9],[0.94,8.0],[0.96,7.3],[0.98,9.9],[0.52,11.0],[0.64,10.8],
  [1.01,11.26],[1.02,8.4],[1.05,7.0],[1.08,9.3],[1.11,7.7],[1.14,8.9],[1.17,6.5],[1.20,9.8],[1.23,7.4],[1.26,8.6],[1.29,10.4],[1.32,7.1],[1.35,8.2],[1.38,9.5],[1.41,6.8],[1.44,8.7],[1.47,7.6],[1.50,10.0],[1.53,6.4],[1.56,8.4],[1.59,9.1],[1.62,7.3],[1.65,10.6],[1.68,7.9],[1.71,8.8],[1.74,6.7],[1.77,9.4],[1.80,7.5],[1.83,8.5],[1.86,10.9],[1.89,7.0],[1.92,8.9],[1.95,7.8],[1.98,9.6],[2.01,6.6],[2.04,8.3],[2.07,10.2],[2.10,7.4],[2.13,9.0],[2.16,7.9],[2.19,8.7],[2.22,6.9],[2.25,10.5],[2.28,7.6],[2.31,8.6],[2.34,9.3],[2.37,7.2],[2.40,8.9],[2.43,8.1],[2.46,9.7],[2.49,7.3],[1.40,6.0],[1.90,6.2],[2.30,6.3],
  [2.52,8.6],[2.57,7.4],[2.62,9.3],[2.67,8.0],[2.72,10.4],[2.77,7.1],[2.82,8.8],[2.87,9.6],[2.92,7.7],[2.97,8.4],[3.02,10.0],[3.07,7.3],[3.12,9.0],[3.17,8.2],[3.22,6.6],[3.27,9.5],[3.32,7.8],[3.37,8.7],[3.42,10.6],[3.47,7.5],[3.52,9.2],[3.57,8.0],[3.62,6.9],[3.67,9.7],[3.72,8.4],[3.77,7.6],[3.82,10.2],[3.87,11.39],[3.92,8.9],[3.97,7.2],[4.02,9.4],[4.07,8.1],[4.12,6.5],[4.17,9.9],[4.22,7.9],[4.27,8.8],[4.32,7.0],[4.37,10.5],[4.42,8.3],[4.47,9.1],[4.52,6.8],[4.57,9.6],[4.62,7.7],[4.67,8.6],[4.72,10.7],[4.77,7.3],[4.82,9.3],[4.87,8.0],[4.93,11.71],[4.95,6.6],[3.40,5.9],[4.85,5.7],
  [5.02,9.8],[5.08,7.5],[5.14,8.7],[5.20,10.4],[5.26,6.9],[5.32,9.1],[5.38,7.8],[5.44,8.5],[5.50,6.4],[5.56,9.6],[5.62,7.2],[5.68,8.3],[5.74,10.1],[5.80,6.8],[5.86,9.0],[5.92,7.6],[5.98,8.6],[6.04,6.2],[6.10,9.4],[6.16,7.9],[6.22,8.9],[6.28,6.7],[6.34,10.0],[6.40,7.4],
  [7.80,10.65],[7.08,9.98],[8.15,9.47],[8.10,9.25],[8.66,9.15],[8.33,10.08],[8.94,10.06],[9.93,9.35],[6.79,9.39],[6.82,9.64],[6.67,9.06],[7.13,8.68],[8.14,8.5],[8.72,8.47],[6.83,8.32],[7.50,8.19],[7.67,8.29],[7.22,7.49],[7.81,7.41],[9.58,7.61],[9.51,7.21],[10.0,8.82],[10.0,8.33],[9.97,7.35],[9.95,7.2],[10.0,7.06],[6.55,8.48],
  [0.05,7.4],[0.06,6.8],[0.07,8.0],[0.08,5.8],[0.09,6.9],[0.10,8.4],[0.11,7.2],[0.12,6.1],[0.13,8.6],[0.14,7.6],[0.15,6.9],[0.16,9.0],[0.17,6.7],[0.18,8.0],[0.19,6.3],[0.20,7.5],[0.21,8.9],[0.22,7.0],[0.23,8.3],[0.24,6.4],[0.25,9.6],[0.26,7.9],[0.27,8.7],[0.28,6.6],[0.29,7.8],[0.30,9.2],[0.31,7.4],[0.32,8.1],[0.33,7.0],[0.34,9.5],[0.35,6.8],[0.36,8.8],[0.37,7.5],[0.38,6.4],[0.39,8.5],[0.40,7.6],[0.41,6.9],[0.42,9.1],[0.43,8.0],[0.44,6.9],[0.45,8.8],[0.46,7.3],[0.47,8.4],[0.48,7.0],[0.49,9.0],[0.50,8.2],[0.51,6.5],[0.52,7.9],[0.53,6.9],[0.54,8.4],[0.56,7.7],[0.58,8.3],[0.60,7.0],[0.62,7.8],[0.64,6.9],[0.66,8.7],[0.68,7.3],[0.70,6.7],[0.72,8.1],[0.74,7.0],[0.76,8.6],[0.78,6.9],[0.80,8.9],[0.82,7.4],[0.84,8.1],[0.86,6.6],[0.88,8.4],[0.90,7.8],[0.92,8.6],[0.94,7.1],[0.96,8.4],[0.98,7.6],
  [1.03,7.7],[1.09,8.0],[1.15,7.3],[1.21,8.3],[1.27,7.0],[1.33,8.7],[1.39,7.6],[1.45,8.0],[1.51,7.2],[1.57,7.8],[1.63,8.2],[1.69,7.1],[1.75,8.5],[1.81,7.9],[1.87,8.2],[1.93,7.5],[1.99,8.0],[2.05,7.2],[2.11,8.6],[2.17,7.6],[2.23,8.2],[2.29,7.0],[2.35,8.5],[2.41,7.8],[2.47,8.3],
  [2.60,8.3],[2.70,7.8],[2.80,8.5],[2.90,8.0],[3.00,8.7],[3.10,7.9],[3.20,8.4],[3.30,8.9],[3.40,7.9],[3.50,8.6],[3.60,8.9],[3.70,8.0],[3.80,8.6],[3.90,8.2],[4.00,8.7],[4.10,7.8],[4.20,8.5],[4.30,8.9],[4.40,7.6],[4.50,8.4],[4.60,8.8],[4.70,7.9],[4.80,8.5],[4.90,8.9],
  [0.055,6.6],[0.065,7.8],[0.075,6.2],[0.085,8.8],[0.095,7.1],[0.105,9.2],[0.115,6.5],[0.125,7.9],[0.135,6.9],[0.145,8.3],[0.155,7.3],[0.165,6.0],[0.175,8.5],[0.185,7.7],[0.195,9.0],[0.205,6.8],[0.215,7.9],[0.225,8.6],[0.235,6.6],[0.245,7.3],[0.255,8.2],[0.265,9.1],[0.275,6.9],[0.285,7.6],[0.295,8.8],[0.305,6.7],[0.315,7.9],[0.325,9.3],[0.335,7.2],[0.345,8.4],[0.355,6.6],[0.365,7.4],[0.375,8.9],[0.385,8.2],[0.395,6.9],[0.405,7.9],[0.415,8.6],[0.425,7.4],[0.435,9.4],[0.445,7.7],[0.455,8.1],[0.465,6.6],[0.475,8.9],[0.485,7.6],[0.495,8.4],[0.51,7.8],[0.53,8.0],[0.55,7.0],[0.57,8.5],[0.59,6.6],[0.61,8.1],[0.63,7.2],[0.65,8.3],[0.67,7.6],[0.69,8.9],[0.71,7.0],[0.73,7.7],[0.75,8.4],[0.77,7.3],[0.79,8.0],[0.81,6.8],[0.83,7.9],[0.85,7.1],[0.87,8.2],[0.89,7.5],[0.91,8.0],[0.93,7.5],[0.95,6.9],[0.97,8.5],[0.99,7.0],[1.06,8.2],[1.12,7.4],[1.18,8.6],[1.24,7.9],[1.30,7.5],[1.36,8.5],[1.42,7.8],[1.48,8.3],[1.54,7.6],[1.60,8.6],[1.66,7.7],[1.72,8.1],[1.78,7.4],[1.84,8.0],[1.90,8.4],[1.96,7.3]
];

const msBlackCross = [
  [0.12,5.7],[0.18,6.1],[0.22,5.6],[0.28,6.4],[0.34,5.9],[0.40,6.7],[0.46,6.2],[0.52,5.8],[0.58,6.9],[0.64,6.4],[0.70,7.2],[0.76,6.0],[0.82,6.7],[0.88,7.4],[0.94,6.3],[0.99,7.0],[0.62,5.7],[0.85,5.9],
  [1.02,6.5],[1.06,7.5],[1.10,6.1],[1.14,7.0],[1.18,6.6],[1.22,7.8],[1.26,6.2],[1.30,7.3],[1.34,5.9],[1.38,6.9],[1.42,7.6],[1.46,6.4],[1.50,7.1],[1.54,5.8],[1.58,6.7],[1.62,7.9],[1.66,6.3],[1.70,7.4],[1.74,6.0],[1.78,7.0],[1.82,6.5],[1.86,7.7],[1.90,6.2],[1.94,7.2],[1.98,6.8],[2.02,8.0],[2.06,6.4],[2.10,7.5],[2.14,6.1],[2.18,7.0],[2.22,7.9],[2.26,6.6],[2.30,7.3],[2.34,6.0],[2.38,7.7],[2.42,6.9],[2.46,7.4],[2.50,6.3],[1.12,5.7],[1.28,5.75],[1.42,5.9],[1.70,7.25],[1.76,7.35],
  [2.54,7.6],[2.58,6.6],[2.62,8.2],[2.66,7.0],[2.70,6.2],[2.74,7.8],[2.78,6.8],[2.82,8.5],[2.86,7.3],[2.90,6.4],[2.94,7.9],[2.98,7.0],[3.02,8.4],[3.06,6.1],[3.10,7.5],[3.14,8.8],[3.18,6.8],[3.22,7.7],[3.26,6.3],[3.30,8.3],[3.34,7.2],[3.38,6.6],[3.42,8.0],[3.46,7.4],[3.50,8.7],[3.54,6.9],[3.58,7.6],[3.62,6.0],[3.66,8.1],[3.70,7.1],[3.74,8.9],[3.78,6.5],[3.82,7.8],[3.86,6.2],[3.90,8.4],[3.94,7.3],[3.98,6.7],[4.02,8.0],[4.06,5.95],[4.10,7.5],[4.14,6.4],[4.18,8.6],[4.22,7.0],[4.26,9.2],[4.30,6.8],[4.34,7.9],[4.38,6.1],[4.42,8.3],[4.46,7.4],[4.50,6.6],[4.54,8.8],[4.58,7.2],[4.62,9.5],[4.66,6.9],[4.70,8.0],[4.74,7.6],[4.78,9.0],[4.82,6.3],[4.86,8.5],[4.90,7.8],[4.94,9.7],[4.98,6.5],[3.55,5.95],[3.70,6.05],
  [5.02,8.7],[5.05,10.3],[5.08,7.4],[5.12,9.1],[5.16,6.2],[5.20,8.3],[5.24,10.1],[5.28,7.0],[5.32,9.6],[5.36,7.8],[5.40,6.6],[5.44,8.8],[5.48,9.9],[5.52,7.3],[5.56,6.1],[5.60,8.1],[5.64,9.4],[5.68,7.6],[5.72,6.4],[5.76,8.5],[5.80,7.1],[5.84,9.0],[5.88,6.8],[5.92,7.9],[5.96,6.3],[6.00,8.9],[6.04,7.5],[6.08,6.6],[6.12,9.3],[6.16,7.2],[6.20,8.2],[6.24,6.5],[6.28,7.7],[6.32,9.6],[6.36,6.9],[6.40,8.6],[6.44,7.4],
  [7.05,10.75],[7.05,10.37],[7.44,10.03],[6.90,8.56],[6.55,8.58],[7.48,8.46],[7.29,8.31],[7.20,7.91],[7.01,7.8],[7.50,7.78],[7.51,7.68],[7.71,7.61],[6.51,7.73],[7.92,7.32],[8.10,7.11],[8.44,7.25],[8.47,7.15],[8.81,6.92],[6.61,7.03],[6.51,6.79],[6.90,6.86],[7.44,6.79],[7.51,6.88],[7.58,6.96],[7.79,6.94],[7.76,6.64],[7.53,6.26],[7.06,6.04],[6.51,6.3],
  [1.15,6.4],[1.25,7.0],[1.35,6.5],[1.45,7.0],[1.55,6.3],[1.65,6.9],[1.72,7.1],[1.74,6.8],[1.79,7.2],[1.85,6.8],[1.95,6.6],[2.05,7.1],[2.15,6.7],[2.25,7.2],[2.35,6.6],[2.45,7.1],[2.55,6.9],[2.65,7.4],[2.75,7.1],[2.85,6.9],[2.95,7.4],[3.05,6.9],[3.15,7.2],[3.25,7.5],[3.35,6.9],[3.45,7.7],[3.55,7.3],[3.65,7.0],[3.75,7.5],[3.85,7.2],[3.95,7.6],[4.05,7.0],[4.15,7.3],[4.25,7.8],[4.35,7.0],[4.45,7.7],[4.55,7.3],[4.65,7.9],[4.75,7.1],[4.85,7.5],[4.95,7.9],[5.15,7.6],[5.35,8.3],[5.55,7.8],[5.75,8.2],[5.95,7.6],[6.15,8.0],[6.35,7.6],[0.45,5.7],[0.65,6.0],[0.78,6.6],[0.92,6.8]
];

const msRedCross = [
  [0.06,5.6],[0.09,6.2],[0.12,5.9],[0.15,6.6],[0.18,7.1],[0.21,6.0],[0.24,6.8],[0.27,5.7],[0.30,7.4],[0.33,6.3],[0.36,7.0],[0.39,5.8],[0.42,6.6],[0.45,7.6],[0.48,6.1],[0.51,7.0],[0.54,5.7],[0.57,6.8],[0.60,7.5],[0.63,6.3],[0.66,7.1],[0.69,5.9],[0.72,6.7],[0.75,7.8],[0.78,6.2],[0.81,7.2],[0.84,5.8],[0.87,6.9],[0.90,7.6],[0.93,6.4],[0.96,7.0],[0.99,5.6],[0.40,8.0],[0.70,8.3],[0.95,8.1],
  [1.02,6.8],[1.05,7.7],[1.08,6.2],[1.11,7.3],[1.14,5.8],[1.17,6.9],[1.20,7.9],[1.23,6.4],[1.26,7.4],[1.29,6.0],[1.32,7.0],[1.35,8.2],[1.38,6.6],[1.41,7.6],[1.44,6.1],[1.47,7.2],[1.50,6.7],[1.53,7.8],[1.56,6.3],[1.59,8.4],[1.62,7.0],[1.65,6.5],[1.68,7.5],[1.71,6.0],[1.74,7.1],[1.77,8.0],[1.80,6.6],[1.83,7.3],[1.86,6.2],[1.89,7.7],[1.92,6.9],[1.95,8.3],[1.98,7.4],[2.01,6.4],[2.04,7.9],[2.07,6.8],[2.10,7.5],[2.13,6.1],[2.16,8.1],[2.19,7.1],[2.22,6.6],[2.25,7.8],[2.28,6.9],[2.31,8.5],[2.34,7.2],[2.37,6.3],[2.40,7.6],[2.43,8.2],[2.46,6.7],[2.49,7.4],[1.78,6.38],[1.20,5.6],[1.50,5.75],[2.00,5.9],
  [2.53,8.8],[2.58,6.9],[2.63,7.6],[2.68,9.1],[2.73,6.4],[2.78,8.0],[2.83,7.2],[2.88,9.4],[2.93,6.7],[2.98,8.3],[3.03,7.5],[3.08,6.1],[3.13,8.7],[3.18,7.8],[3.23,9.6],[3.28,6.8],[3.33,8.1],[3.38,7.3],[3.43,9.0],[3.48,6.5],[3.53,8.5],[3.58,7.7],[3.63,9.9],[3.68,6.9],[3.73,8.2],[3.78,7.1],[3.83,9.3],[3.88,6.3],[3.93,8.6],[3.98,10.03],[4.03,7.4],[4.08,6.0],[4.13,8.9],[4.19,10.61],[4.18,7.6],[4.23,9.5],[4.28,6.6],[4.33,8.4],[4.38,7.0],[4.43,9.2],[4.48,6.2],[4.53,8.0],[4.58,7.3],[4.63,9.7],[4.68,6.8],[4.73,8.7],[4.78,7.5],[4.83,10.2],[4.88,6.4],[4.93,8.9],[4.98,7.8],[3.10,5.75],[4.35,5.9],[4.90,5.8],[2.95,9.8],
  [5.17,12.33],[5.22,11.69],[5.22,11.41],[5.54,11.08],[5.39,10.61],[6.05,10.17],[5.02,9.5],[5.08,7.3],[5.12,8.6],[5.16,6.5],[5.20,9.9],[5.25,7.8],[5.30,6.0],[5.34,8.9],[5.38,7.1],[5.42,9.4],[5.46,6.7],[5.50,8.2],[5.55,7.5],[5.60,6.3],[5.64,9.0],[5.68,7.9],[5.72,6.6],[5.76,8.5],[5.80,7.2],[5.84,9.7],[5.88,6.9],[5.92,8.0],[5.96,7.4],[6.00,6.5],[6.04,8.8],[6.08,7.6],[6.12,6.8],[6.16,9.2],[6.20,7.0],[6.24,8.3],[6.28,6.4],[6.32,7.7],[6.36,9.5],[6.40,6.9],[6.44,8.1],[5.28,5.6],
  [6.55,10.55],[7.51,10.22],[6.86,9.8],[6.90,9.59],[6.61,9.71],[6.68,9.25],[7.64,8.87],[8.26,8.31],[6.95,8.16],[7.29,8.1],[7.65,8.15],[7.84,7.9],[7.41,7.84],[7.24,7.63],[6.65,8.0],[6.61,7.8],[7.51,7.57],[7.95,7.4],[8.04,7.42],[8.38,7.46],[8.36,6.77],[6.65,7.29],[6.99,6.74],[6.85,6.67],[7.47,6.99],[6.62,6.47],[6.69,6.28],[6.90,6.02],
  [0.07,6.0],[0.10,6.9],[0.13,6.3],[0.16,7.4],[0.19,6.5],[0.22,7.7],[0.25,6.2],[0.28,7.2],[0.31,6.7],[0.34,7.9],[0.37,6.4],[0.40,7.3],[0.43,6.0],[0.46,6.9],[0.49,7.9],[0.52,6.4],[0.55,7.3],[0.58,6.0],[0.61,7.0],[0.64,7.8],[0.67,6.5],[0.70,7.5],[0.73,6.2],[0.76,7.0],[0.79,6.5],[0.82,7.6],[0.85,6.7],[0.88,7.3],[0.91,6.1],[0.94,7.8],[0.97,6.6],
  [1.04,7.2],[1.10,6.6],[1.16,7.6],[1.22,6.9],[1.28,7.7],[1.34,6.4],[1.40,7.2],[1.46,6.8],[1.52,7.4],[1.58,6.5],[1.64,7.3],[1.70,6.8],[1.76,7.5],[1.82,6.9],[1.88,7.2],[1.94,6.6],[2.00,7.6],[2.06,7.2],[2.12,6.7],[2.18,7.7],[2.24,7.3],[2.30,6.8],[2.36,7.8],[2.42,7.1],[2.48,8.0],
  [2.62,7.2],[2.72,8.4],[2.82,7.7],[2.92,8.1],[3.02,7.0],[3.12,7.4],[3.22,8.3],[3.32,7.5],[3.42,8.6],[3.52,7.9],[3.62,8.3],[3.72,7.5],[3.82,8.7],[3.92,7.6],[4.02,8.3],[4.12,7.7],[4.22,8.8],[4.32,7.9],[4.42,8.6],[4.52,7.7],[4.62,8.4],[4.72,7.9],[4.82,8.6],[4.92,7.6],[5.10,8.0],[5.30,8.3],[5.50,7.8],[5.70,8.1],[5.90,7.6],[6.10,8.2],[6.30,7.8]
];

// model curves in the lower panel, [z, lgM]
const lineGsMol = [[0.05,5.5],[0.09,6.45],[0.14,7.05],[0.19,7.45],[0.3,7.95],[0.42,8.28],[0.6,8.6],[0.8,8.9],[1.0,9.12],[1.3,9.4],[1.6,9.55],[2.0,9.72],[2.3,9.93],[2.6,10.12],[3.0,10.38],[3.5,10.68],[4.0,10.86],[4.5,11.12],[5.0,11.37],[5.5,11.22],[6.0,11.12],[6.5,11.0],[7.0,10.9],[7.5,10.8],[8.0,10.7]];
const lineFfObs = [[0.06,5.5],[0.1,6.2],[0.146,6.82],[0.2,7.15],[0.3,7.62],[0.45,7.95],[0.61,8.15],[0.8,8.38],[1.0,8.6],[1.3,8.85],[1.6,9.0],[2.0,9.28],[2.4,9.52],[2.7,9.68],[3.0,9.87],[3.5,10.2],[4.0,10.35],[4.5,10.6],[5.0,10.87],[5.5,10.76],[6.0,10.64],[6.5,10.51],[7.0,10.42],[7.5,10.34],[8.0,10.25],[8.5,10.12],[9.0,9.98],[9.5,10.03],[10.0,9.89]];
const lineMagenta = [[0.07,5.5],[0.12,6.3],[0.22,7.1],[0.3,7.4],[0.42,7.72],[0.55,7.95],[0.69,8.13],[0.85,8.35],[1.0,8.5],[1.2,8.58],[1.4,8.6],[1.7,8.72],[2.0,8.84],[2.2,8.95],[2.5,9.07],[3.0,9.3],[3.5,9.5],[4.0,9.7],[4.4,9.82],[4.75,9.92],[5.0,10.05],[5.3,10.0],[5.5,9.98],[6.0,10.01],[6.47,10.02],[6.76,10.18],[7.2,10.22],[7.6,10.26],[8.0,10.32]];
const lineViolet = [[0.08,5.5],[0.13,6.0],[0.2,6.5],[0.26,6.82],[0.4,7.25],[0.53,7.51],[0.7,7.8],[0.85,7.97],[1.0,8.04],[1.38,8.1],[1.69,8.3],[2.0,8.38],[2.54,8.58],[3.0,8.8],[3.5,9.02],[4.0,9.15],[4.4,9.28],[4.74,9.4],[5.0,9.55],[5.5,9.52],[6.0,9.55],[6.47,9.52],[6.76,9.67],[7.4,9.74],[8.0,9.81],[8.5,9.83],[9.0,9.84],[9.5,9.89],[9.75,9.81],[10.0,9.81]];
const lineFfMu10 = [[0.11,5.5],[0.18,6.0],[0.26,6.35],[0.4,6.75],[0.6,7.15],[0.8,7.42],[1.03,7.65],[1.5,8.0],[2.04,8.3],[2.42,8.5],[2.81,8.85],[3.5,9.22],[4.0,9.43],[4.5,9.62],[5.0,9.85],[5.5,9.72],[6.0,9.62],[6.47,9.5],[7.2,9.42],[8.0,9.19],[8.5,9.08],[9.0,8.95],[9.5,9.07],[9.9,8.91]];
const lineVioletDash = [[0.26,5.5],[0.33,5.75],[0.42,6.0],[0.58,6.4],[0.76,6.7],[1.15,7.0],[1.6,7.2],[2.04,7.35],[2.54,7.58],[3.0,7.82],[3.5,8.06],[4.0,8.28],[4.35,8.4],[5.0,8.54],[5.5,8.47],[6.0,8.52],[6.47,8.54],[6.76,8.67],[7.4,8.72],[8.0,8.78],[8.5,8.82],[9.0,8.85],[9.5,8.88],[9.75,8.78],[10.0,8.78]];

// ---- layout ----
const plotLeft = 113, plotRight = 1015, plotTop = 5, plotMid = 347, plotBottom = 689;

const svg = d3.select("#chart")
  .attr("width", width)
  .attr("height", height)
  .attr("viewBox", `0 0 ${width} ${height}`);

svg.append("rect").attr("width", width).attr("height", height).attr("fill", "#fff");

const x = d3.scaleLinear().domain([-0.09, 10.35]).range([plotLeft, plotRight]);
const ySfr = d3.scaleLinear().domain([-5.7, 3.4]).range([plotMid, plotTop]);
const yMs = d3.scaleLinear().domain([5.5, 12.5]).range([plotBottom, plotMid]);

const defs = svg.append("defs");
defs.append("clipPath").attr("id", "clipTop").append("rect")
  .attr("x", plotLeft).attr("y", plotTop).attr("width", plotRight - plotLeft).attr("height", plotMid - plotTop);
defs.append("clipPath").attr("id", "clipBot").append("rect")
  .attr("x", plotLeft).attr("y", plotMid).attr("width", plotRight - plotLeft).attr("height", plotBottom - plotMid);

const crossPath = "M-3.9,-3.9L3.9,3.9M-3.9,3.9L3.9,-3.9";

function drawPoints(g, y, green, blackDots, redDots, blackCross, redCross) {
  // tiny green points: overlapping soft dots build up the cloud
  g.append("g").selectAll("circle").data(green).join("circle")
    .attr("cx", d => x(d[0]))
    .attr("cy", d => y(d[1]))
    .attr("r", 2.6)
    .attr("fill", "#00f000")
    .attr("fill-opacity", 0.62);

  g.append("g").selectAll("circle").data(blackDots).join("circle")
    .attr("cx", d => x(d[0])).attr("cy", d => y(d[1]))
    .attr("r", 2.25).attr("fill", "#000");

  g.append("g").selectAll("path").data(blackCross).join("path")
    .attr("d", crossPath)
    .attr("transform", d => `translate(${x(d[0])},${y(d[1])})`)
    .attr("stroke", "#000").attr("stroke-width", 1.25).attr("fill", "none");

  g.append("g").selectAll("circle").data(redDots).join("circle")
    .attr("cx", d => x(d[0])).attr("cy", d => y(d[1]))
    .attr("r", 2.25).attr("fill", "#ff0000");

  g.append("g").selectAll("path").data(redCross).join("path")
    .attr("d", crossPath)
    .attr("transform", d => `translate(${x(d[0])},${y(d[1])})`)
    .attr("stroke", "#ff0000").attr("stroke-width", 1.25).attr("fill", "none");
}

const topLayer = svg.append("g").attr("clip-path", "url(#clipTop)");
drawPoints(topLayer, ySfr, sfrGreen.concat(sfrGreenCore), sfrBlackDots, sfrRedDots, sfrBlackCross, sfrRedCross);

const botLayer = svg.append("g").attr("clip-path", "url(#clipBot)");
drawPoints(botLayer, yMs, msGreen.concat(msGreenCore), msBlackDots, msRedDots, msBlackCross, msRedCross);

// curves
const line = d3.line().x(d => x(d[0])).y(d => yMs(d[1]));
const curves = [
  { data: lineGsMol, color: "#0b6a0b", dash: null },
  { data: lineFfObs, color: "#0000ff", dash: null },
  { data: lineMagenta, color: "#ff00ff", dash: null },
  { data: lineViolet, color: "#c266ee", dash: null },
  { data: lineFfMu10, color: "#0000ff", dash: "13,8" },
  { data: lineVioletDash, color: "#c266ee", dash: "13,8" }
];
botLayer.selectAll("path.curve").data(curves).join("path")
  .attr("class", "curve")
  .attr("d", d => line(d.data))
  .attr("fill", "none")
  .attr("stroke", d => d.color)
  .attr("stroke-width", 2.6)
  .attr("stroke-dasharray", d => d.dash);

// curve labels
botLayer.append("text").attr("x", 553).attr("y", 400)
  .attr("font-size", 20).attr("letter-spacing", 1.4).style("fill", "#0b6a0b")
  .text("G\u2212S MOL");
botLayer.append("text").attr("x", 838).attr("y", 459)
  .attr("font-size", 20).attr("letter-spacing", 1.6).style("fill", "#0000ff")
  .text("FF obs. MOL");
const mu = botLayer.append("text").attr("x", 838).attr("y", 508)
  .attr("font-size", 20).attr("letter-spacing", 1.6).style("fill", "#0000ff")
  .style("white-space", "pre");
mu.append("tspan").text("FF ");
mu.append("tspan").attr("font-style", "italic").text("\u03bc");
mu.append("tspan").text("=10 MOL");

// ---- axes ----
const axes = svg.append("g");
const majorLen = 13, minorLen = 6.5;

function xTicks(yPos, dir) {
  const minor = d3.range(0, 104).map(i => i / 10).filter(v => Math.round(v * 10) % 10 !== 0);
  axes.append("g").selectAll("line").data(minor).join("line")
    .attr("x1", d => x(d)).attr("x2", d => x(d))
    .attr("y1", yPos).attr("y2", yPos + dir * minorLen)
    .attr("stroke", "#000").attr("stroke-width", 1.3);
  axes.append("g").selectAll("line").data(zTicks).join("line")
    .attr("x1", d => x(d)).attr("x2", d => x(d))
    .attr("y1", yPos).attr("y2", yPos + dir * majorLen)
    .attr("stroke", "#000").attr("stroke-width", 1.5);
}
xTicks(plotTop, 1);
xTicks(plotMid, -1);
xTicks(plotMid, 1);
xTicks(plotBottom, -1);

function yTicks(y, majors, lo, hi) {
  const minor = d3.range(Math.round(lo * 5), Math.round(hi * 5) + 1).map(i => i / 5)
    .filter(v => Math.abs(v - Math.round(v)) > 1e-6);
  [[plotLeft, 1], [plotRight, -1]].forEach(([xPos, dir]) => {
    axes.append("g").selectAll("line").data(minor).join("line")
      .attr("x1", xPos).attr("x2", xPos + dir * minorLen)
      .attr("y1", d => y(d)).attr("y2", d => y(d))
      .attr("stroke", "#000").attr("stroke-width", 1.3);
    axes.append("g").selectAll("line").data(majors).join("line")
      .attr("x1", xPos).attr("x2", xPos + dir * majorLen)
      .attr("y1", d => y(d)).attr("y2", d => y(d))
      .attr("stroke", "#000").attr("stroke-width", 1.5);
  });
  axes.append("g").selectAll("text").data(majors).join("text")
    .attr("x", 97).attr("y", d => y(d))
    .attr("dy", "0.36em")
    .attr("text-anchor", "end")
    .attr("font-size", 23)
    .text(d => d < 0 ? "\u2212" + Math.abs(d) : String(d));
}
yTicks(ySfr, sfrTicks, -5.6, 3.4);
yTicks(yMs, msTicks, 5.6, 12.4);

axes.append("g").selectAll("text").data(zTicks).join("text")
  .attr("x", d => x(d)).attr("y", 712)
  .attr("dy", "0.36em")
  .attr("text-anchor", "middle")
  .attr("font-size", 23)
  .text(d => String(d));

// frames
axes.append("rect").attr("x", plotLeft).attr("y", plotTop)
  .attr("width", plotRight - plotLeft).attr("height", plotBottom - plotTop)
  .attr("fill", "none").attr("stroke", "#000").attr("stroke-width", 2.4);
axes.append("line").attr("x1", plotLeft).attr("x2", plotRight)
  .attr("y1", plotMid).attr("y2", plotMid)
  .attr("stroke", "#000").attr("stroke-width", 2.4);

// axis titles
svg.append("text").attr("x", (plotLeft + plotRight) / 2 + 6).attr("y", 741)
  .attr("dy", "0.36em").attr("text-anchor", "middle")
  .attr("font-size", 25).attr("letter-spacing", 1.8)
  .text("Redshift");

const tTop = svg.append("text")
  .attr("transform", "translate(31,181) rotate(-90)")
  .attr("text-anchor", "middle").attr("dy", "0.36em")
  .attr("font-size", 25).attr("letter-spacing", 2.2)
  .style("white-space", "pre");
tTop.append("tspan").text("lg(SFR)  [M");
tTop.append("tspan").attr("font-size", 16).attr("dy", 5).text("\u2299");
tTop.append("tspan").attr("dy", -5).text("/yr]");

const tBot = svg.append("text")
  .attr("transform", "translate(33,518) rotate(-90)")
  .attr("text-anchor", "middle").attr("dy", "0.36em")
  .attr("font-size", 25).attr("letter-spacing", 2.2)
  .style("white-space", "pre");
tBot.append("tspan").text("lg(M");
tBot.append("tspan").attr("font-size", 16).attr("dy", 5).text("star");
tBot.append("tspan").attr("dy", -5).text(")  [M");
tBot.append("tspan").attr("font-size", 16).attr("dy", 5).text("\u2299");
tBot.append("tspan").attr("dy", -5).text("]");
</script>
</body>
</html>
